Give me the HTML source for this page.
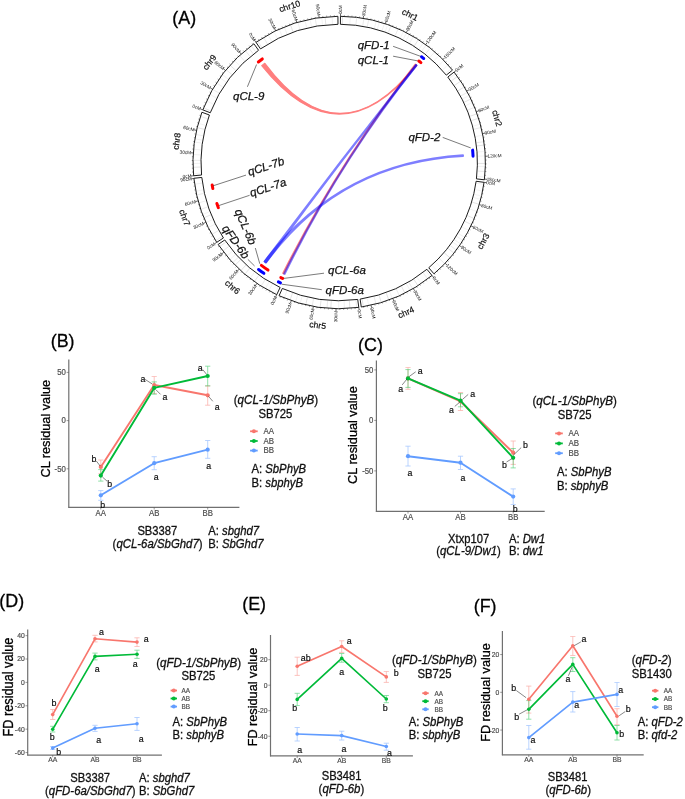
<!DOCTYPE html>
<html><head><meta charset="utf-8"><style>
html,body{margin:0;padding:0;background:#fff;width:685px;height:799px;overflow:hidden}
svg{display:block;will-change:transform}
text{font-family:"Liberation Sans",sans-serif}
</style></head><body>
<svg width="685" height="799" viewBox="0 0 685 799" font-family="'Liberation Sans', sans-serif">
<rect width="685" height="799" fill="#fff"/>
<g font-family="'Liberation Sans', sans-serif"><line x1="342.35" y1="23.84" x2="342.51" y2="16.84" stroke="#dcdcdc" stroke-width="0.8"/>
<line x1="349.83" y1="24.21" x2="350.37" y2="17.23" stroke="#f0f0f0" stroke-width="0.8"/>
<line x1="355.86" y1="24.80" x2="356.70" y2="17.85" stroke="#e4e4e4" stroke-width="0.8"/>
<line x1="362.67" y1="25.80" x2="363.85" y2="18.90" stroke="#e4e4e4" stroke-width="0.8"/>
<line x1="367.26" y1="26.67" x2="368.68" y2="19.81" stroke="#e4e4e4" stroke-width="0.8"/>
<line x1="374.37" y1="28.33" x2="376.15" y2="21.56" stroke="#ececec" stroke-width="0.8"/>
<line x1="377.35" y1="29.15" x2="379.28" y2="22.42" stroke="#f0f0f0" stroke-width="0.8"/>
<line x1="382.07" y1="30.59" x2="384.23" y2="23.93" stroke="#ececec" stroke-width="0.8"/>
<line x1="385.23" y1="31.66" x2="387.56" y2="25.06" stroke="#f0f0f0" stroke-width="0.8"/>
<line x1="388.23" y1="32.76" x2="390.71" y2="26.21" stroke="#e4e4e4" stroke-width="0.8"/>
<line x1="395.16" y1="35.59" x2="397.99" y2="29.19" stroke="#e4e4e4" stroke-width="0.8"/>
<line x1="400.33" y1="38.00" x2="403.42" y2="31.71" stroke="#f0f0f0" stroke-width="0.8"/>
<line x1="403.14" y1="39.42" x2="406.36" y2="33.20" stroke="#ececec" stroke-width="0.8"/>
<line x1="405.90" y1="40.89" x2="409.27" y2="34.75" stroke="#ececec" stroke-width="0.8"/>
<line x1="409.64" y1="43.02" x2="413.20" y2="36.99" stroke="#ececec" stroke-width="0.8"/>
<line x1="414.34" y1="45.92" x2="418.14" y2="40.03" stroke="#dcdcdc" stroke-width="0.8"/>
<line x1="419.00" y1="49.06" x2="423.03" y2="43.33" stroke="#ececec" stroke-width="0.8"/>
<line x1="421.76" y1="51.05" x2="425.93" y2="45.42" stroke="#ececec" stroke-width="0.8"/>
<line x1="425.50" y1="53.92" x2="429.85" y2="48.44" stroke="#e4e4e4" stroke-width="0.8"/>
<line x1="429.84" y1="57.51" x2="434.41" y2="52.21" stroke="#ececec" stroke-width="0.8"/>
<line x1="433.79" y1="61.06" x2="438.56" y2="55.94" stroke="#f0f0f0" stroke-width="0.8"/>
<line x1="438.55" y1="65.72" x2="443.57" y2="60.83" stroke="#f0f0f0" stroke-width="0.8"/>
<line x1="442.47" y1="69.91" x2="447.68" y2="65.24" stroke="#f0f0f0" stroke-width="0.8"/>
<line x1="445.52" y1="73.43" x2="450.89" y2="68.93" stroke="#ececec" stroke-width="0.8"/>
<line x1="449.39" y1="78.26" x2="454.95" y2="74.01" stroke="#ececec" stroke-width="0.8"/>
<line x1="451.36" y1="80.90" x2="457.02" y2="76.79" stroke="#dcdcdc" stroke-width="0.8"/>
<line x1="454.48" y1="85.37" x2="460.29" y2="81.48" stroke="#dcdcdc" stroke-width="0.8"/>
<line x1="457.93" y1="90.80" x2="463.92" y2="87.18" stroke="#dcdcdc" stroke-width="0.8"/>
<line x1="460.85" y1="95.87" x2="466.99" y2="92.51" stroke="#e4e4e4" stroke-width="0.8"/>
<line x1="462.48" y1="98.94" x2="468.70" y2="95.74" stroke="#f0f0f0" stroke-width="0.8"/>
<line x1="464.13" y1="102.26" x2="470.44" y2="99.22" stroke="#dcdcdc" stroke-width="0.8"/>
<line x1="465.67" y1="105.56" x2="472.06" y2="102.68" stroke="#f0f0f0" stroke-width="0.8"/>
<line x1="467.62" y1="110.10" x2="474.10" y2="107.46" stroke="#e4e4e4" stroke-width="0.8"/>
<line x1="469.97" y1="116.28" x2="476.57" y2="113.94" stroke="#dcdcdc" stroke-width="0.8"/>
<line x1="471.42" y1="120.59" x2="478.09" y2="118.48" stroke="#dcdcdc" stroke-width="0.8"/>
<line x1="473.05" y1="126.14" x2="479.80" y2="124.31" stroke="#f0f0f0" stroke-width="0.8"/>
<line x1="473.86" y1="129.27" x2="480.66" y2="127.60" stroke="#e4e4e4" stroke-width="0.8"/>
<line x1="475.46" y1="136.58" x2="482.33" y2="135.27" stroke="#f0f0f0" stroke-width="0.8"/>
<line x1="476.49" y1="142.77" x2="483.42" y2="141.78" stroke="#e4e4e4" stroke-width="0.8"/>
<line x1="476.91" y1="145.94" x2="483.86" y2="145.11" stroke="#dcdcdc" stroke-width="0.8"/>
<line x1="477.50" y1="151.95" x2="484.48" y2="151.42" stroke="#f0f0f0" stroke-width="0.8"/>
<line x1="477.76" y1="156.23" x2="484.75" y2="155.91" stroke="#f0f0f0" stroke-width="0.8"/>
<line x1="477.90" y1="163.43" x2="484.90" y2="163.47" stroke="#dcdcdc" stroke-width="0.8"/>
<line x1="477.84" y1="166.44" x2="484.84" y2="166.64" stroke="#f0f0f0" stroke-width="0.8"/>
<line x1="477.64" y1="171.06" x2="484.62" y2="171.49" stroke="#e4e4e4" stroke-width="0.8"/>
<line x1="477.21" y1="176.34" x2="484.17" y2="177.04" stroke="#ececec" stroke-width="0.8"/>
<line x1="476.34" y1="183.24" x2="483.26" y2="184.29" stroke="#ececec" stroke-width="0.8"/>
<line x1="475.22" y1="189.62" x2="482.09" y2="190.99" stroke="#f0f0f0" stroke-width="0.8"/>
<line x1="474.20" y1="194.31" x2="481.02" y2="195.92" stroke="#f0f0f0" stroke-width="0.8"/>
<line x1="473.41" y1="197.51" x2="480.18" y2="199.28" stroke="#f0f0f0" stroke-width="0.8"/>
<line x1="472.10" y1="202.18" x2="478.81" y2="204.18" stroke="#dcdcdc" stroke-width="0.8"/>
<line x1="469.87" y1="209.00" x2="476.47" y2="211.35" stroke="#f0f0f0" stroke-width="0.8"/>
<line x1="467.33" y1="215.62" x2="473.79" y2="218.30" stroke="#dcdcdc" stroke-width="0.8"/>
<line x1="464.77" y1="221.40" x2="471.11" y2="224.38" stroke="#dcdcdc" stroke-width="0.8"/>
<line x1="462.01" y1="226.97" x2="468.21" y2="230.22" stroke="#f0f0f0" stroke-width="0.8"/>
<line x1="458.32" y1="233.54" x2="464.34" y2="237.13" stroke="#ececec" stroke-width="0.8"/>
<line x1="456.60" y1="236.36" x2="462.52" y2="240.09" stroke="#ececec" stroke-width="0.8"/>
<line x1="454.40" y1="239.74" x2="460.22" y2="243.64" stroke="#ececec" stroke-width="0.8"/>
<line x1="452.73" y1="242.18" x2="458.45" y2="246.21" stroke="#ececec" stroke-width="0.8"/>
<line x1="450.27" y1="245.57" x2="455.88" y2="249.76" stroke="#e4e4e4" stroke-width="0.8"/>
<line x1="448.07" y1="248.43" x2="453.57" y2="252.77" stroke="#dcdcdc" stroke-width="0.8"/>
<line x1="444.35" y1="252.95" x2="449.66" y2="257.51" stroke="#dcdcdc" stroke-width="0.8"/>
<line x1="439.29" y1="258.51" x2="444.35" y2="263.36" stroke="#e4e4e4" stroke-width="0.8"/>
<line x1="435.69" y1="262.14" x2="440.56" y2="267.17" stroke="#f0f0f0" stroke-width="0.8"/>
<line x1="432.16" y1="265.44" x2="436.85" y2="270.64" stroke="#f0f0f0" stroke-width="0.8"/>
<line x1="425.73" y1="270.90" x2="430.10" y2="276.37" stroke="#f0f0f0" stroke-width="0.8"/>
<line x1="423.20" y1="272.87" x2="427.44" y2="278.44" stroke="#e4e4e4" stroke-width="0.8"/>
<line x1="416.97" y1="277.34" x2="420.90" y2="283.14" stroke="#f0f0f0" stroke-width="0.8"/>
<line x1="413.89" y1="279.37" x2="417.66" y2="285.27" stroke="#dcdcdc" stroke-width="0.8"/>
<line x1="408.93" y1="282.40" x2="412.45" y2="288.45" stroke="#e4e4e4" stroke-width="0.8"/>
<line x1="406.40" y1="283.83" x2="409.79" y2="289.96" stroke="#ececec" stroke-width="0.8"/>
<line x1="401.53" y1="286.40" x2="404.68" y2="292.66" stroke="#dcdcdc" stroke-width="0.8"/>
<line x1="396.23" y1="288.93" x2="399.11" y2="295.31" stroke="#e4e4e4" stroke-width="0.8"/>
<line x1="389.65" y1="291.70" x2="392.20" y2="298.22" stroke="#f0f0f0" stroke-width="0.8"/>
<line x1="386.26" y1="292.97" x2="388.63" y2="299.56" stroke="#dcdcdc" stroke-width="0.8"/>
<line x1="379.11" y1="295.33" x2="381.12" y2="302.04" stroke="#dcdcdc" stroke-width="0.8"/>
<line x1="374.10" y1="296.74" x2="375.86" y2="303.51" stroke="#e4e4e4" stroke-width="0.8"/>
<line x1="367.27" y1="298.33" x2="368.69" y2="305.19" stroke="#f0f0f0" stroke-width="0.8"/>
<line x1="362.13" y1="299.29" x2="363.29" y2="306.20" stroke="#dcdcdc" stroke-width="0.8"/>
<line x1="355.86" y1="300.20" x2="356.70" y2="307.14" stroke="#e4e4e4" stroke-width="0.8"/>
<line x1="349.36" y1="300.83" x2="349.87" y2="307.81" stroke="#dcdcdc" stroke-width="0.8"/>
<line x1="344.15" y1="301.11" x2="344.40" y2="308.11" stroke="#ececec" stroke-width="0.8"/>
<line x1="338.74" y1="301.20" x2="338.72" y2="308.20" stroke="#ececec" stroke-width="0.8"/>
<line x1="331.24" y1="300.97" x2="330.84" y2="307.96" stroke="#dcdcdc" stroke-width="0.8"/>
<line x1="327.63" y1="300.72" x2="327.05" y2="307.69" stroke="#e4e4e4" stroke-width="0.8"/>
<line x1="321.09" y1="300.01" x2="320.18" y2="306.95" stroke="#dcdcdc" stroke-width="0.8"/>
<line x1="313.55" y1="298.81" x2="312.25" y2="305.69" stroke="#e4e4e4" stroke-width="0.8"/>
<line x1="307.41" y1="297.51" x2="305.81" y2="304.32" stroke="#dcdcdc" stroke-width="0.8"/>
<line x1="302.16" y1="296.16" x2="300.30" y2="302.91" stroke="#ececec" stroke-width="0.8"/>
<line x1="297.73" y1="294.85" x2="295.63" y2="301.53" stroke="#ececec" stroke-width="0.8"/>
<line x1="292.53" y1="293.11" x2="290.17" y2="299.70" stroke="#dcdcdc" stroke-width="0.8"/>
<line x1="286.94" y1="290.98" x2="284.30" y2="297.46" stroke="#ececec" stroke-width="0.8"/>
<line x1="278.18" y1="287.06" x2="275.10" y2="293.34" stroke="#f0f0f0" stroke-width="0.8"/>
<line x1="272.42" y1="284.07" x2="269.05" y2="290.20" stroke="#ececec" stroke-width="0.8"/>
<line x1="269.06" y1="282.16" x2="265.52" y2="288.19" stroke="#f0f0f0" stroke-width="0.8"/>
<line x1="265.10" y1="279.75" x2="261.36" y2="285.67" stroke="#e4e4e4" stroke-width="0.8"/>
<line x1="258.72" y1="275.46" x2="254.65" y2="281.16" stroke="#dcdcdc" stroke-width="0.8"/>
<line x1="254.55" y1="272.37" x2="250.27" y2="277.91" stroke="#ececec" stroke-width="0.8"/>
<line x1="249.68" y1="268.44" x2="245.16" y2="273.79" stroke="#dcdcdc" stroke-width="0.8"/>
<line x1="245.86" y1="265.10" x2="241.15" y2="270.27" stroke="#dcdcdc" stroke-width="0.8"/>
<line x1="240.44" y1="259.88" x2="235.45" y2="264.80" stroke="#dcdcdc" stroke-width="0.8"/>
<line x1="238.15" y1="257.51" x2="233.05" y2="262.30" stroke="#e4e4e4" stroke-width="0.8"/>
<line x1="235.45" y1="254.55" x2="230.21" y2="259.20" stroke="#ececec" stroke-width="0.8"/>
<line x1="232.49" y1="251.11" x2="227.11" y2="255.58" stroke="#f0f0f0" stroke-width="0.8"/>
<line x1="228.81" y1="246.47" x2="223.23" y2="250.71" stroke="#e4e4e4" stroke-width="0.8"/>
<line x1="225.72" y1="242.25" x2="219.99" y2="246.28" stroke="#dcdcdc" stroke-width="0.8"/>
<line x1="221.96" y1="236.61" x2="216.05" y2="240.36" stroke="#e4e4e4" stroke-width="0.8"/>
<line x1="218.40" y1="230.65" x2="212.30" y2="234.09" stroke="#e4e4e4" stroke-width="0.8"/>
<line x1="214.98" y1="224.20" x2="208.71" y2="227.31" stroke="#ececec" stroke-width="0.8"/>
<line x1="212.74" y1="219.48" x2="206.36" y2="222.35" stroke="#ececec" stroke-width="0.8"/>
<line x1="210.77" y1="214.88" x2="204.29" y2="217.52" stroke="#dcdcdc" stroke-width="0.8"/>
<line x1="209.55" y1="211.78" x2="203.01" y2="214.27" stroke="#f0f0f0" stroke-width="0.8"/>
<line x1="207.81" y1="206.94" x2="201.18" y2="209.18" stroke="#e4e4e4" stroke-width="0.8"/>
<line x1="205.90" y1="200.82" x2="199.17" y2="202.75" stroke="#ececec" stroke-width="0.8"/>
<line x1="203.97" y1="193.35" x2="197.15" y2="194.91" stroke="#e4e4e4" stroke-width="0.8"/>
<line x1="203.21" y1="189.79" x2="196.35" y2="191.17" stroke="#f0f0f0" stroke-width="0.8"/>
<line x1="202.04" y1="183.09" x2="195.11" y2="184.13" stroke="#ececec" stroke-width="0.8"/>
<line x1="200.91" y1="173.14" x2="193.93" y2="173.68" stroke="#f0f0f0" stroke-width="0.8"/>
<line x1="200.58" y1="167.06" x2="193.58" y2="167.29" stroke="#dcdcdc" stroke-width="0.8"/>
<line x1="200.50" y1="163.40" x2="193.50" y2="163.45" stroke="#ececec" stroke-width="0.8"/>
<line x1="200.52" y1="160.40" x2="193.52" y2="160.29" stroke="#e4e4e4" stroke-width="0.8"/>
<line x1="200.71" y1="154.95" x2="193.72" y2="154.56" stroke="#ececec" stroke-width="0.8"/>
<line x1="201.07" y1="149.95" x2="194.10" y2="149.32" stroke="#ececec" stroke-width="0.8"/>
<line x1="201.86" y1="143.10" x2="194.93" y2="142.12" stroke="#ececec" stroke-width="0.8"/>
<line x1="202.32" y1="140.09" x2="195.41" y2="138.96" stroke="#ececec" stroke-width="0.8"/>
<line x1="203.09" y1="135.83" x2="196.22" y2="134.49" stroke="#ececec" stroke-width="0.8"/>
<line x1="204.51" y1="129.39" x2="197.71" y2="127.72" stroke="#dcdcdc" stroke-width="0.8"/>
<line x1="205.56" y1="125.36" x2="198.82" y2="123.49" stroke="#f0f0f0" stroke-width="0.8"/>
<line x1="207.59" y1="118.72" x2="200.95" y2="116.51" stroke="#e4e4e4" stroke-width="0.8"/>
<line x1="210.51" y1="110.77" x2="204.01" y2="108.16" stroke="#dcdcdc" stroke-width="0.8"/>
<line x1="213.39" y1="104.11" x2="207.04" y2="101.17" stroke="#f0f0f0" stroke-width="0.8"/>
<line x1="216.45" y1="97.92" x2="210.26" y2="94.66" stroke="#ececec" stroke-width="0.8"/>
<line x1="219.10" y1="93.12" x2="213.04" y2="89.62" stroke="#e4e4e4" stroke-width="0.8"/>
<line x1="222.82" y1="87.04" x2="216.95" y2="83.23" stroke="#ececec" stroke-width="0.8"/>
<line x1="226.11" y1="82.20" x2="220.40" y2="78.15" stroke="#ececec" stroke-width="0.8"/>
<line x1="228.31" y1="79.18" x2="222.72" y2="74.98" stroke="#f0f0f0" stroke-width="0.8"/>
<line x1="231.96" y1="74.54" x2="226.55" y2="70.10" stroke="#e4e4e4" stroke-width="0.8"/>
<line x1="235.60" y1="70.28" x2="230.37" y2="65.63" stroke="#dcdcdc" stroke-width="0.8"/>
<line x1="239.83" y1="65.74" x2="234.81" y2="60.86" stroke="#f0f0f0" stroke-width="0.8"/>
<line x1="244.62" y1="61.05" x2="239.84" y2="55.93" stroke="#e4e4e4" stroke-width="0.8"/>
<line x1="249.99" y1="56.29" x2="245.49" y2="50.93" stroke="#e4e4e4" stroke-width="0.8"/>
<line x1="253.18" y1="53.70" x2="248.84" y2="48.21" stroke="#dcdcdc" stroke-width="0.8"/>
<line x1="255.64" y1="51.80" x2="251.42" y2="46.21" stroke="#e4e4e4" stroke-width="0.8"/>
<line x1="261.84" y1="47.38" x2="257.94" y2="41.57" stroke="#e4e4e4" stroke-width="0.8"/>
<line x1="267.39" y1="43.84" x2="263.77" y2="37.85" stroke="#e4e4e4" stroke-width="0.8"/>
<line x1="271.76" y1="41.30" x2="268.36" y2="35.18" stroke="#ececec" stroke-width="0.8"/>
<line x1="277.29" y1="38.38" x2="274.17" y2="32.12" stroke="#f0f0f0" stroke-width="0.8"/>
<line x1="282.14" y1="36.08" x2="279.26" y2="29.70" stroke="#f0f0f0" stroke-width="0.8"/>
<line x1="287.07" y1="33.97" x2="284.44" y2="27.48" stroke="#ececec" stroke-width="0.8"/>
<line x1="292.95" y1="31.74" x2="290.62" y2="25.14" stroke="#dcdcdc" stroke-width="0.8"/>
<line x1="299.96" y1="29.47" x2="297.98" y2="22.75" stroke="#ececec" stroke-width="0.8"/>
<line x1="306.70" y1="27.66" x2="305.06" y2="20.86" stroke="#ececec" stroke-width="0.8"/>
<line x1="311.50" y1="26.59" x2="310.10" y2="19.73" stroke="#f0f0f0" stroke-width="0.8"/>
<line x1="316.46" y1="25.68" x2="315.32" y2="18.77" stroke="#e4e4e4" stroke-width="0.8"/>
<line x1="322.56" y1="24.80" x2="321.72" y2="17.85" stroke="#f0f0f0" stroke-width="0.8"/>
<line x1="325.79" y1="24.45" x2="325.12" y2="17.48" stroke="#dcdcdc" stroke-width="0.8"/>
<line x1="332.48" y1="23.96" x2="332.14" y2="16.97" stroke="#ececec" stroke-width="0.8"/>
<path d="M340.48,16.31 A146.2,146.2 0 0 1 452.50,70.10 L446.30,75.15 A138.2,138.2 0 0 0 340.41,24.31 Z" fill="none" stroke="#111" stroke-width="0.95"/>
<path d="M454.09,72.09 A146.2,146.2 0 0 1 484.37,179.81 L476.43,178.86 A138.2,138.2 0 0 0 447.81,77.04 Z" fill="none" stroke="#111" stroke-width="0.95"/>
<path d="M484.05,182.34 A146.2,146.2 0 0 1 433.96,273.84 L428.77,267.74 A138.2,138.2 0 0 0 476.12,181.26 Z" fill="none" stroke="#111" stroke-width="0.95"/>
<path d="M432.00,275.47 A146.2,146.2 0 0 1 361.31,307.02 L360.10,299.11 A138.2,138.2 0 0 0 426.92,269.29 Z" fill="none" stroke="#111" stroke-width="0.95"/>
<path d="M358.79,307.38 A146.2,146.2 0 0 1 279.04,295.75 L282.33,288.46 A138.2,138.2 0 0 0 357.72,299.45 Z" fill="none" stroke="#111" stroke-width="0.95"/>
<path d="M276.72,294.68 A146.2,146.2 0 0 1 218.14,244.47 L224.76,239.98 A138.2,138.2 0 0 0 280.14,287.44 Z" fill="none" stroke="#111" stroke-width="0.95"/>
<path d="M216.73,242.34 A146.2,146.2 0 0 1 193.86,178.29 L201.81,177.43 A138.2,138.2 0 0 0 223.43,237.97 Z" fill="none" stroke="#111" stroke-width="0.95"/>
<path d="M193.60,175.75 A146.2,146.2 0 0 1 201.90,112.26 L209.42,115.01 A138.2,138.2 0 0 0 201.57,175.03 Z" fill="none" stroke="#111" stroke-width="0.95"/>
<path d="M202.80,109.87 A146.2,146.2 0 0 1 253.89,43.77 L258.55,50.27 A138.2,138.2 0 0 0 210.27,112.75 Z" fill="none" stroke="#111" stroke-width="0.95"/>
<path d="M255.97,42.30 A146.2,146.2 0 0 1 337.92,16.31 L337.99,24.31 A138.2,138.2 0 0 0 260.53,48.88 Z" fill="none" stroke="#111" stroke-width="0.95"/>
<line x1="340.48" y1="16.31" x2="340.50" y2="13.71" stroke="#222" stroke-width="0.7"/>
<text x="340.50" y="14.11" font-size="4.7" fill="#111" dominant-baseline="central" transform="rotate(-89.50 340.50 14.11)">0cM</text>
<line x1="344.28" y1="16.39" x2="344.32" y2="15.19" stroke="#222" stroke-width="0.45"/>
<line x1="348.07" y1="16.57" x2="348.15" y2="15.37" stroke="#222" stroke-width="0.45"/>
<line x1="351.87" y1="16.85" x2="351.97" y2="15.65" stroke="#222" stroke-width="0.45"/>
<line x1="355.65" y1="17.23" x2="355.78" y2="16.04" stroke="#222" stroke-width="0.45"/>
<line x1="359.42" y1="17.71" x2="359.59" y2="16.52" stroke="#222" stroke-width="0.45"/>
<line x1="363.18" y1="18.28" x2="363.61" y2="15.72" stroke="#222" stroke-width="0.7"/>
<text x="363.54" y="16.11" font-size="4.7" fill="#111" dominant-baseline="central" transform="rotate(-80.56 363.54 16.11)">30cM</text>
<line x1="366.92" y1="18.95" x2="367.15" y2="17.77" stroke="#222" stroke-width="0.45"/>
<line x1="370.64" y1="19.72" x2="370.90" y2="18.55" stroke="#222" stroke-width="0.45"/>
<line x1="374.35" y1="20.59" x2="374.63" y2="19.42" stroke="#222" stroke-width="0.45"/>
<line x1="378.02" y1="21.55" x2="378.34" y2="20.39" stroke="#222" stroke-width="0.45"/>
<line x1="381.68" y1="22.61" x2="382.02" y2="21.46" stroke="#222" stroke-width="0.45"/>
<line x1="385.30" y1="23.76" x2="386.12" y2="21.29" stroke="#222" stroke-width="0.7"/>
<text x="385.99" y="21.67" font-size="4.7" fill="#111" dominant-baseline="central" transform="rotate(-71.62 385.99 21.67)">60cM</text>
<line x1="388.89" y1="25.00" x2="389.30" y2="23.88" stroke="#222" stroke-width="0.45"/>
<line x1="392.45" y1="26.34" x2="392.89" y2="25.22" stroke="#222" stroke-width="0.45"/>
<line x1="395.97" y1="27.77" x2="396.44" y2="26.67" stroke="#222" stroke-width="0.45"/>
<line x1="399.46" y1="29.29" x2="399.95" y2="28.20" stroke="#222" stroke-width="0.45"/>
<line x1="402.90" y1="30.91" x2="403.42" y2="29.83" stroke="#222" stroke-width="0.45"/>
<line x1="406.30" y1="32.61" x2="407.49" y2="30.30" stroke="#222" stroke-width="0.7"/>
<text x="407.31" y="30.65" font-size="4.7" fill="#111" dominant-baseline="central" transform="rotate(-62.68 407.31 30.65)">90cM</text>
<line x1="409.65" y1="34.40" x2="410.23" y2="33.34" stroke="#222" stroke-width="0.45"/>
<line x1="412.96" y1="36.27" x2="413.57" y2="35.24" stroke="#222" stroke-width="0.45"/>
<line x1="416.22" y1="38.23" x2="416.85" y2="37.21" stroke="#222" stroke-width="0.45"/>
<line x1="419.42" y1="40.28" x2="420.08" y2="39.27" stroke="#222" stroke-width="0.45"/>
<line x1="422.58" y1="42.40" x2="423.26" y2="41.42" stroke="#222" stroke-width="0.45"/>
<line x1="425.67" y1="44.61" x2="427.21" y2="42.52" stroke="#222" stroke-width="0.7"/>
<text x="426.97" y="42.84" font-size="4.7" fill="#111" dominant-baseline="central" transform="rotate(-53.74 426.97 42.84)">120cM</text>
<line x1="428.71" y1="46.90" x2="429.44" y2="45.95" stroke="#222" stroke-width="0.45"/>
<line x1="431.68" y1="49.27" x2="432.44" y2="48.34" stroke="#222" stroke-width="0.45"/>
<line x1="434.59" y1="51.71" x2="435.38" y2="50.80" stroke="#222" stroke-width="0.45"/>
<line x1="437.44" y1="54.23" x2="438.25" y2="53.34" stroke="#222" stroke-width="0.45"/>
<line x1="440.23" y1="56.82" x2="441.05" y2="55.95" stroke="#222" stroke-width="0.45"/>
<line x1="442.94" y1="59.48" x2="444.78" y2="57.65" stroke="#222" stroke-width="0.7"/>
<text x="444.50" y="57.93" font-size="4.7" fill="#111" dominant-baseline="central" transform="rotate(-44.80 444.50 57.93)">150cM</text>
<line x1="445.58" y1="62.21" x2="446.46" y2="61.39" stroke="#222" stroke-width="0.45"/>
<line x1="448.15" y1="65.01" x2="449.05" y2="64.21" stroke="#222" stroke-width="0.45"/>
<line x1="450.65" y1="67.88" x2="451.57" y2="67.10" stroke="#222" stroke-width="0.45"/>
<line x1="454.09" y1="72.09" x2="456.14" y2="70.48" stroke="#222" stroke-width="0.7"/>
<text x="455.82" y="70.73" font-size="4.7" fill="#111" dominant-baseline="central" transform="rotate(-38.20 455.82 70.73)">0cM</text>
<line x1="456.40" y1="75.11" x2="457.37" y2="74.39" stroke="#222" stroke-width="0.45"/>
<line x1="458.64" y1="78.18" x2="459.62" y2="77.49" stroke="#222" stroke-width="0.45"/>
<line x1="460.79" y1="81.32" x2="461.79" y2="80.65" stroke="#222" stroke-width="0.45"/>
<line x1="462.86" y1="84.51" x2="463.87" y2="83.87" stroke="#222" stroke-width="0.45"/>
<line x1="464.85" y1="87.75" x2="465.88" y2="87.14" stroke="#222" stroke-width="0.45"/>
<line x1="466.75" y1="91.04" x2="469.01" y2="89.77" stroke="#222" stroke-width="0.7"/>
<text x="468.67" y="89.97" font-size="4.7" fill="#111" dominant-baseline="central" transform="rotate(-29.26 468.67 89.97)">30cM</text>
<line x1="468.56" y1="94.38" x2="469.62" y2="93.82" stroke="#222" stroke-width="0.45"/>
<line x1="470.29" y1="97.77" x2="471.36" y2="97.24" stroke="#222" stroke-width="0.45"/>
<line x1="471.93" y1="101.20" x2="473.02" y2="100.70" stroke="#222" stroke-width="0.45"/>
<line x1="473.48" y1="104.67" x2="474.58" y2="104.20" stroke="#222" stroke-width="0.45"/>
<line x1="474.94" y1="108.18" x2="476.05" y2="107.74" stroke="#222" stroke-width="0.45"/>
<line x1="476.30" y1="111.73" x2="478.74" y2="110.83" stroke="#222" stroke-width="0.7"/>
<text x="478.36" y="110.97" font-size="4.7" fill="#111" dominant-baseline="central" transform="rotate(-20.32 478.36 110.97)">60cM</text>
<line x1="477.58" y1="115.31" x2="478.71" y2="114.92" stroke="#222" stroke-width="0.45"/>
<line x1="478.76" y1="118.93" x2="479.90" y2="118.57" stroke="#222" stroke-width="0.45"/>
<line x1="479.84" y1="122.57" x2="481.00" y2="122.24" stroke="#222" stroke-width="0.45"/>
<line x1="480.83" y1="126.24" x2="481.99" y2="125.94" stroke="#222" stroke-width="0.45"/>
<line x1="481.73" y1="129.94" x2="482.90" y2="129.67" stroke="#222" stroke-width="0.45"/>
<line x1="482.53" y1="133.65" x2="485.07" y2="133.14" stroke="#222" stroke-width="0.7"/>
<text x="484.68" y="133.22" font-size="4.7" fill="#111" dominant-baseline="central" transform="rotate(-11.38 484.68 133.22)">90cM</text>
<line x1="483.23" y1="137.39" x2="484.41" y2="137.18" stroke="#222" stroke-width="0.45"/>
<line x1="483.83" y1="141.14" x2="485.02" y2="140.97" stroke="#222" stroke-width="0.45"/>
<line x1="484.34" y1="144.91" x2="485.53" y2="144.77" stroke="#222" stroke-width="0.45"/>
<line x1="484.75" y1="148.69" x2="485.94" y2="148.58" stroke="#222" stroke-width="0.45"/>
<line x1="485.06" y1="152.48" x2="486.25" y2="152.40" stroke="#222" stroke-width="0.45"/>
<line x1="485.27" y1="156.28" x2="487.87" y2="156.17" stroke="#222" stroke-width="0.7"/>
<text x="487.47" y="156.18" font-size="4.7" fill="#111" dominant-baseline="central" transform="rotate(-2.44 487.47 156.18)">120cM</text>
<line x1="485.38" y1="160.08" x2="486.58" y2="160.06" stroke="#222" stroke-width="0.45"/>
<line x1="485.39" y1="163.88" x2="486.59" y2="163.89" stroke="#222" stroke-width="0.45"/>
<line x1="485.31" y1="167.68" x2="486.51" y2="167.72" stroke="#222" stroke-width="0.45"/>
<line x1="485.12" y1="171.48" x2="486.32" y2="171.55" stroke="#222" stroke-width="0.45"/>
<line x1="484.84" y1="175.27" x2="486.04" y2="175.37" stroke="#222" stroke-width="0.45"/>
<line x1="484.46" y1="179.05" x2="487.04" y2="179.34" stroke="#222" stroke-width="0.7"/>
<text x="486.65" y="179.30" font-size="4.7" fill="#111" dominant-baseline="central" transform="rotate(6.50 486.65 179.30)">150cM</text>
<line x1="484.05" y1="182.34" x2="486.62" y2="182.69" stroke="#222" stroke-width="0.7"/>
<text x="486.23" y="182.64" font-size="4.7" fill="#111" dominant-baseline="central" transform="rotate(7.80 486.23 182.64)">0cM</text>
<line x1="483.48" y1="186.10" x2="484.67" y2="186.30" stroke="#222" stroke-width="0.45"/>
<line x1="482.82" y1="189.85" x2="484.00" y2="190.07" stroke="#222" stroke-width="0.45"/>
<line x1="482.06" y1="193.57" x2="483.23" y2="193.83" stroke="#222" stroke-width="0.45"/>
<line x1="481.20" y1="197.27" x2="482.37" y2="197.56" stroke="#222" stroke-width="0.45"/>
<line x1="480.25" y1="200.96" x2="481.41" y2="201.27" stroke="#222" stroke-width="0.45"/>
<line x1="479.20" y1="204.61" x2="481.69" y2="205.36" stroke="#222" stroke-width="0.7"/>
<text x="481.31" y="205.24" font-size="4.7" fill="#111" dominant-baseline="central" transform="rotate(16.74 481.31 205.24)">30cM</text>
<line x1="478.06" y1="208.24" x2="479.20" y2="208.61" stroke="#222" stroke-width="0.45"/>
<line x1="476.83" y1="211.83" x2="477.96" y2="212.24" stroke="#222" stroke-width="0.45"/>
<line x1="475.50" y1="215.39" x2="476.62" y2="215.83" stroke="#222" stroke-width="0.45"/>
<line x1="474.08" y1="218.92" x2="475.18" y2="219.38" stroke="#222" stroke-width="0.45"/>
<line x1="472.56" y1="222.41" x2="473.66" y2="222.90" stroke="#222" stroke-width="0.45"/>
<line x1="470.96" y1="225.85" x2="473.30" y2="226.98" stroke="#222" stroke-width="0.7"/>
<text x="472.94" y="226.81" font-size="4.7" fill="#111" dominant-baseline="central" transform="rotate(25.68 472.94 226.81)">60cM</text>
<line x1="469.27" y1="229.26" x2="470.34" y2="229.81" stroke="#222" stroke-width="0.45"/>
<line x1="467.49" y1="232.62" x2="468.54" y2="233.19" stroke="#222" stroke-width="0.45"/>
<line x1="465.62" y1="235.93" x2="466.66" y2="236.53" stroke="#222" stroke-width="0.45"/>
<line x1="463.67" y1="239.19" x2="464.69" y2="239.82" stroke="#222" stroke-width="0.45"/>
<line x1="461.63" y1="242.40" x2="462.64" y2="243.06" stroke="#222" stroke-width="0.45"/>
<line x1="459.51" y1="245.56" x2="461.65" y2="247.04" stroke="#222" stroke-width="0.7"/>
<text x="461.32" y="246.81" font-size="4.7" fill="#111" dominant-baseline="central" transform="rotate(34.62 461.32 246.81)">90cM</text>
<line x1="457.31" y1="248.66" x2="458.28" y2="249.37" stroke="#222" stroke-width="0.45"/>
<line x1="455.03" y1="251.70" x2="455.98" y2="252.44" stroke="#222" stroke-width="0.45"/>
<line x1="452.67" y1="254.68" x2="453.61" y2="255.44" stroke="#222" stroke-width="0.45"/>
<line x1="450.24" y1="257.60" x2="451.15" y2="258.39" stroke="#222" stroke-width="0.45"/>
<line x1="447.73" y1="260.46" x2="448.62" y2="261.26" stroke="#222" stroke-width="0.45"/>
<line x1="445.14" y1="263.25" x2="447.03" y2="265.04" stroke="#222" stroke-width="0.7"/>
<text x="446.74" y="264.76" font-size="4.7" fill="#111" dominant-baseline="central" transform="rotate(43.56 446.74 264.76)">120cM</text>
<line x1="442.49" y1="265.97" x2="443.34" y2="266.82" stroke="#222" stroke-width="0.45"/>
<line x1="439.76" y1="268.62" x2="440.59" y2="269.49" stroke="#222" stroke-width="0.45"/>
<line x1="436.97" y1="271.20" x2="437.77" y2="272.09" stroke="#222" stroke-width="0.45"/>
<line x1="434.11" y1="273.70" x2="434.89" y2="274.62" stroke="#222" stroke-width="0.45"/>
<line x1="432.00" y1="275.47" x2="433.65" y2="277.48" stroke="#222" stroke-width="0.7"/>
<text x="433.39" y="277.17" font-size="4.7" fill="#111" dominant-baseline="central" transform="rotate(50.60 433.39 277.17)">0cM</text>
<line x1="429.03" y1="277.85" x2="429.77" y2="278.80" stroke="#222" stroke-width="0.45"/>
<line x1="426.00" y1="280.15" x2="426.71" y2="281.11" stroke="#222" stroke-width="0.45"/>
<line x1="422.91" y1="282.36" x2="423.60" y2="283.35" stroke="#222" stroke-width="0.45"/>
<line x1="419.77" y1="284.50" x2="420.43" y2="285.50" stroke="#222" stroke-width="0.45"/>
<line x1="416.57" y1="286.55" x2="417.20" y2="287.57" stroke="#222" stroke-width="0.45"/>
<line x1="413.31" y1="288.52" x2="414.63" y2="290.76" stroke="#222" stroke-width="0.7"/>
<text x="414.43" y="290.42" font-size="4.7" fill="#111" dominant-baseline="central" transform="rotate(59.54 414.43 290.42)">30cM</text>
<line x1="410.01" y1="290.41" x2="410.59" y2="291.46" stroke="#222" stroke-width="0.45"/>
<line x1="406.66" y1="292.20" x2="407.22" y2="293.27" stroke="#222" stroke-width="0.45"/>
<line x1="403.27" y1="293.91" x2="403.79" y2="294.99" stroke="#222" stroke-width="0.45"/>
<line x1="399.83" y1="295.54" x2="400.33" y2="296.63" stroke="#222" stroke-width="0.45"/>
<line x1="396.35" y1="297.07" x2="396.82" y2="298.17" stroke="#222" stroke-width="0.45"/>
<line x1="392.83" y1="298.51" x2="393.78" y2="300.93" stroke="#222" stroke-width="0.7"/>
<text x="393.64" y="300.55" font-size="4.7" fill="#111" dominant-baseline="central" transform="rotate(68.48 393.64 300.55)">60cM</text>
<line x1="389.28" y1="299.86" x2="389.69" y2="300.98" stroke="#222" stroke-width="0.45"/>
<line x1="385.69" y1="301.11" x2="386.07" y2="302.25" stroke="#222" stroke-width="0.45"/>
<line x1="382.07" y1="302.27" x2="382.42" y2="303.42" stroke="#222" stroke-width="0.45"/>
<line x1="378.42" y1="303.34" x2="378.74" y2="304.50" stroke="#222" stroke-width="0.45"/>
<line x1="374.74" y1="304.31" x2="375.03" y2="305.48" stroke="#222" stroke-width="0.45"/>
<line x1="371.04" y1="305.19" x2="371.61" y2="307.73" stroke="#222" stroke-width="0.7"/>
<text x="371.52" y="307.34" font-size="4.7" fill="#111" dominant-baseline="central" transform="rotate(77.42 371.52 307.34)">90cM</text>
<line x1="367.32" y1="305.97" x2="367.55" y2="307.15" stroke="#222" stroke-width="0.45"/>
<line x1="363.58" y1="306.65" x2="363.78" y2="307.84" stroke="#222" stroke-width="0.45"/>
<line x1="358.79" y1="307.38" x2="359.14" y2="309.96" stroke="#222" stroke-width="0.7"/>
<text x="359.08" y="309.56" font-size="4.7" fill="#111" dominant-baseline="central" transform="rotate(82.30 359.08 309.56)">0cM</text>
<line x1="355.01" y1="307.84" x2="355.14" y2="309.04" stroke="#222" stroke-width="0.45"/>
<line x1="351.23" y1="308.20" x2="351.33" y2="309.40" stroke="#222" stroke-width="0.45"/>
<line x1="347.44" y1="308.47" x2="347.51" y2="309.67" stroke="#222" stroke-width="0.45"/>
<line x1="343.64" y1="308.63" x2="343.68" y2="309.83" stroke="#222" stroke-width="0.45"/>
<line x1="339.84" y1="308.70" x2="339.84" y2="309.90" stroke="#222" stroke-width="0.45"/>
<line x1="336.04" y1="308.67" x2="335.98" y2="311.27" stroke="#222" stroke-width="0.7"/>
<text x="335.99" y="310.87" font-size="4.7" fill="#111" text-anchor="end" dominant-baseline="central" transform="rotate(271.24 335.99 310.87)">30cM</text>
<line x1="332.24" y1="308.53" x2="332.18" y2="309.73" stroke="#222" stroke-width="0.45"/>
<line x1="328.44" y1="308.30" x2="328.35" y2="309.50" stroke="#222" stroke-width="0.45"/>
<line x1="324.65" y1="307.97" x2="324.53" y2="309.17" stroke="#222" stroke-width="0.45"/>
<line x1="320.88" y1="307.55" x2="320.73" y2="308.74" stroke="#222" stroke-width="0.45"/>
<line x1="317.11" y1="307.02" x2="316.93" y2="308.21" stroke="#222" stroke-width="0.45"/>
<line x1="313.36" y1="306.40" x2="312.90" y2="308.96" stroke="#222" stroke-width="0.7"/>
<text x="312.97" y="308.56" font-size="4.7" fill="#111" text-anchor="end" dominant-baseline="central" transform="rotate(280.18 312.97 308.56)">60cM</text>
<line x1="309.63" y1="305.68" x2="309.38" y2="306.85" stroke="#222" stroke-width="0.45"/>
<line x1="305.91" y1="304.86" x2="305.64" y2="306.03" stroke="#222" stroke-width="0.45"/>
<line x1="302.22" y1="303.95" x2="301.92" y2="305.11" stroke="#222" stroke-width="0.45"/>
<line x1="298.56" y1="302.94" x2="298.22" y2="304.09" stroke="#222" stroke-width="0.45"/>
<line x1="294.92" y1="301.83" x2="294.56" y2="302.98" stroke="#222" stroke-width="0.45"/>
<line x1="291.31" y1="300.63" x2="290.46" y2="303.09" stroke="#222" stroke-width="0.7"/>
<text x="290.59" y="302.71" font-size="4.7" fill="#111" text-anchor="end" dominant-baseline="central" transform="rotate(289.12 290.59 302.71)">90cM</text>
<line x1="287.74" y1="299.34" x2="287.31" y2="300.47" stroke="#222" stroke-width="0.45"/>
<line x1="284.20" y1="297.96" x2="283.74" y2="299.07" stroke="#222" stroke-width="0.45"/>
<line x1="280.69" y1="296.48" x2="280.21" y2="297.58" stroke="#222" stroke-width="0.45"/>
<line x1="276.72" y1="294.68" x2="275.61" y2="297.03" stroke="#222" stroke-width="0.7"/>
<text x="275.78" y="296.67" font-size="4.7" fill="#111" text-anchor="end" dominant-baseline="central" transform="rotate(295.30 275.78 296.67)">0cM</text>
<line x1="273.30" y1="293.01" x2="272.76" y2="294.08" stroke="#222" stroke-width="0.45"/>
<line x1="269.93" y1="291.25" x2="269.36" y2="292.31" stroke="#222" stroke-width="0.45"/>
<line x1="266.61" y1="289.41" x2="266.01" y2="290.45" stroke="#222" stroke-width="0.45"/>
<line x1="263.33" y1="287.47" x2="262.71" y2="288.50" stroke="#222" stroke-width="0.45"/>
<line x1="260.11" y1="285.46" x2="259.46" y2="286.47" stroke="#222" stroke-width="0.45"/>
<line x1="256.94" y1="283.36" x2="255.48" y2="285.51" stroke="#222" stroke-width="0.7"/>
<text x="255.70" y="285.18" font-size="4.7" fill="#111" text-anchor="end" dominant-baseline="central" transform="rotate(304.24 255.70 285.18)">30cM</text>
<line x1="253.82" y1="281.18" x2="253.12" y2="282.16" stroke="#222" stroke-width="0.45"/>
<line x1="250.77" y1="278.92" x2="250.04" y2="279.88" stroke="#222" stroke-width="0.45"/>
<line x1="247.77" y1="276.58" x2="247.02" y2="277.52" stroke="#222" stroke-width="0.45"/>
<line x1="244.83" y1="274.17" x2="244.06" y2="275.08" stroke="#222" stroke-width="0.45"/>
<line x1="241.96" y1="271.68" x2="241.16" y2="272.57" stroke="#222" stroke-width="0.45"/>
<line x1="239.16" y1="269.11" x2="237.38" y2="271.01" stroke="#222" stroke-width="0.7"/>
<text x="237.65" y="270.71" font-size="4.7" fill="#111" text-anchor="end" dominant-baseline="central" transform="rotate(313.18 237.65 270.71)">60cM</text>
<line x1="236.42" y1="266.47" x2="235.57" y2="267.33" stroke="#222" stroke-width="0.45"/>
<line x1="233.75" y1="263.76" x2="232.88" y2="264.60" stroke="#222" stroke-width="0.45"/>
<line x1="231.15" y1="260.99" x2="230.26" y2="261.80" stroke="#222" stroke-width="0.45"/>
<line x1="228.63" y1="258.15" x2="227.72" y2="258.93" stroke="#222" stroke-width="0.45"/>
<line x1="226.18" y1="255.24" x2="225.25" y2="256.00" stroke="#222" stroke-width="0.45"/>
<line x1="223.80" y1="252.27" x2="221.75" y2="253.86" stroke="#222" stroke-width="0.7"/>
<text x="222.07" y="253.62" font-size="4.7" fill="#111" text-anchor="end" dominant-baseline="central" transform="rotate(322.12 222.07 253.62)">90cM</text>
<line x1="221.51" y1="249.24" x2="220.54" y2="249.95" stroke="#222" stroke-width="0.45"/>
<line x1="219.29" y1="246.15" x2="218.31" y2="246.83" stroke="#222" stroke-width="0.45"/>
<line x1="216.73" y1="242.34" x2="214.55" y2="243.76" stroke="#222" stroke-width="0.7"/>
<text x="214.88" y="243.54" font-size="4.7" fill="#111" text-anchor="end" dominant-baseline="central" transform="rotate(326.90 214.88 243.54)">0cM</text>
<line x1="214.69" y1="239.13" x2="213.67" y2="239.76" stroke="#222" stroke-width="0.45"/>
<line x1="212.74" y1="235.87" x2="211.70" y2="236.47" stroke="#222" stroke-width="0.45"/>
<line x1="210.88" y1="232.55" x2="209.82" y2="233.13" stroke="#222" stroke-width="0.45"/>
<line x1="209.10" y1="229.19" x2="208.03" y2="229.74" stroke="#222" stroke-width="0.45"/>
<line x1="207.41" y1="225.79" x2="206.33" y2="226.31" stroke="#222" stroke-width="0.45"/>
<line x1="205.81" y1="222.34" x2="203.43" y2="223.40" stroke="#222" stroke-width="0.7"/>
<text x="203.80" y="223.24" font-size="4.7" fill="#111" text-anchor="end" dominant-baseline="central" transform="rotate(335.84 203.80 223.24)">30cM</text>
<line x1="204.30" y1="218.85" x2="203.19" y2="219.31" stroke="#222" stroke-width="0.45"/>
<line x1="202.88" y1="215.32" x2="201.76" y2="215.76" stroke="#222" stroke-width="0.45"/>
<line x1="201.55" y1="211.76" x2="200.42" y2="212.16" stroke="#222" stroke-width="0.45"/>
<line x1="200.31" y1="208.16" x2="199.17" y2="208.54" stroke="#222" stroke-width="0.45"/>
<line x1="199.17" y1="204.54" x2="198.02" y2="204.88" stroke="#222" stroke-width="0.45"/>
<line x1="198.13" y1="200.88" x2="195.62" y2="201.56" stroke="#222" stroke-width="0.7"/>
<text x="196.01" y="201.46" font-size="4.7" fill="#111" text-anchor="end" dominant-baseline="central" transform="rotate(344.78 196.01 201.46)">60cM</text>
<line x1="197.18" y1="197.20" x2="196.01" y2="197.48" stroke="#222" stroke-width="0.45"/>
<line x1="196.32" y1="193.50" x2="195.15" y2="193.75" stroke="#222" stroke-width="0.45"/>
<line x1="195.57" y1="189.77" x2="194.39" y2="189.99" stroke="#222" stroke-width="0.45"/>
<line x1="194.91" y1="186.03" x2="193.72" y2="186.22" stroke="#222" stroke-width="0.45"/>
<line x1="194.34" y1="182.27" x2="193.15" y2="182.43" stroke="#222" stroke-width="0.45"/>
<line x1="193.88" y1="178.49" x2="191.29" y2="178.78" stroke="#222" stroke-width="0.7"/>
<text x="191.69" y="178.73" font-size="4.7" fill="#111" text-anchor="end" dominant-baseline="central" transform="rotate(353.72 191.69 178.73)">90cM</text>
<line x1="193.60" y1="175.75" x2="191.01" y2="175.99" stroke="#222" stroke-width="0.7"/>
<text x="191.41" y="175.95" font-size="4.7" fill="#111" text-anchor="end" dominant-baseline="central" transform="rotate(354.80 191.41 175.95)">0cM</text>
<line x1="193.31" y1="171.96" x2="192.11" y2="172.04" stroke="#222" stroke-width="0.45"/>
<line x1="193.11" y1="168.16" x2="191.91" y2="168.21" stroke="#222" stroke-width="0.45"/>
<line x1="193.01" y1="164.36" x2="191.81" y2="164.38" stroke="#222" stroke-width="0.45"/>
<line x1="193.01" y1="160.56" x2="191.81" y2="160.54" stroke="#222" stroke-width="0.45"/>
<line x1="193.11" y1="156.76" x2="191.91" y2="156.71" stroke="#222" stroke-width="0.45"/>
<line x1="193.31" y1="152.96" x2="190.72" y2="152.79" stroke="#222" stroke-width="0.7"/>
<text x="191.12" y="152.82" font-size="4.7" fill="#111" text-anchor="end" dominant-baseline="central" transform="rotate(363.74 191.12 152.82)">30cM</text>
<line x1="193.61" y1="149.17" x2="192.41" y2="149.06" stroke="#222" stroke-width="0.45"/>
<line x1="194.00" y1="145.39" x2="192.81" y2="145.25" stroke="#222" stroke-width="0.45"/>
<line x1="194.50" y1="141.62" x2="193.31" y2="141.45" stroke="#222" stroke-width="0.45"/>
<line x1="195.09" y1="137.87" x2="193.91" y2="137.66" stroke="#222" stroke-width="0.45"/>
<line x1="195.78" y1="134.13" x2="194.60" y2="133.90" stroke="#222" stroke-width="0.45"/>
<line x1="196.57" y1="130.41" x2="194.03" y2="129.84" stroke="#222" stroke-width="0.7"/>
<text x="194.42" y="129.93" font-size="4.7" fill="#111" text-anchor="end" dominant-baseline="central" transform="rotate(372.68 194.42 129.93)">60cM</text>
<line x1="197.45" y1="126.71" x2="196.28" y2="126.42" stroke="#222" stroke-width="0.45"/>
<line x1="198.43" y1="123.04" x2="197.27" y2="122.71" stroke="#222" stroke-width="0.45"/>
<line x1="199.50" y1="119.39" x2="198.35" y2="119.04" stroke="#222" stroke-width="0.45"/>
<line x1="200.67" y1="115.77" x2="199.53" y2="115.39" stroke="#222" stroke-width="0.45"/>
<line x1="202.80" y1="109.87" x2="200.38" y2="108.93" stroke="#222" stroke-width="0.7"/>
<text x="200.75" y="109.08" font-size="4.7" fill="#111" text-anchor="end" dominant-baseline="central" transform="rotate(381.10 200.75 109.08)">0cM</text>
<line x1="204.22" y1="106.34" x2="203.11" y2="105.88" stroke="#222" stroke-width="0.45"/>
<line x1="205.72" y1="102.85" x2="204.63" y2="102.36" stroke="#222" stroke-width="0.45"/>
<line x1="207.32" y1="99.40" x2="206.24" y2="98.88" stroke="#222" stroke-width="0.45"/>
<line x1="209.00" y1="95.99" x2="207.94" y2="95.44" stroke="#222" stroke-width="0.45"/>
<line x1="210.78" y1="92.63" x2="209.72" y2="92.05" stroke="#222" stroke-width="0.45"/>
<line x1="212.64" y1="89.31" x2="210.39" y2="88.01" stroke="#222" stroke-width="0.7"/>
<text x="210.73" y="88.21" font-size="4.7" fill="#111" text-anchor="end" dominant-baseline="central" transform="rotate(390.04 210.73 88.21)">30cM</text>
<line x1="214.58" y1="86.05" x2="213.56" y2="85.42" stroke="#222" stroke-width="0.45"/>
<line x1="216.61" y1="82.83" x2="215.61" y2="82.18" stroke="#222" stroke-width="0.45"/>
<line x1="218.73" y1="79.67" x2="217.74" y2="78.99" stroke="#222" stroke-width="0.45"/>
<line x1="220.92" y1="76.57" x2="219.95" y2="75.86" stroke="#222" stroke-width="0.45"/>
<line x1="223.20" y1="73.52" x2="222.24" y2="72.79" stroke="#222" stroke-width="0.45"/>
<line x1="225.55" y1="70.53" x2="223.53" y2="68.90" stroke="#222" stroke-width="0.7"/>
<text x="223.84" y="69.15" font-size="4.7" fill="#111" text-anchor="end" dominant-baseline="central" transform="rotate(398.98 223.84 69.15)">60cM</text>
<line x1="227.98" y1="67.61" x2="227.07" y2="66.83" stroke="#222" stroke-width="0.45"/>
<line x1="230.48" y1="64.75" x2="229.59" y2="63.95" stroke="#222" stroke-width="0.45"/>
<line x1="233.06" y1="61.96" x2="232.19" y2="61.13" stroke="#222" stroke-width="0.45"/>
<line x1="235.71" y1="59.23" x2="234.86" y2="58.38" stroke="#222" stroke-width="0.45"/>
<line x1="238.43" y1="56.57" x2="237.61" y2="55.70" stroke="#222" stroke-width="0.45"/>
<line x1="241.22" y1="53.99" x2="239.48" y2="52.06" stroke="#222" stroke-width="0.7"/>
<text x="239.75" y="52.36" font-size="4.7" fill="#111" text-anchor="end" dominant-baseline="central" transform="rotate(407.92 239.75 52.36)">90cM</text>
<line x1="244.08" y1="51.48" x2="243.30" y2="50.57" stroke="#222" stroke-width="0.45"/>
<line x1="247.00" y1="49.04" x2="246.24" y2="48.11" stroke="#222" stroke-width="0.45"/>
<line x1="249.98" y1="46.68" x2="249.24" y2="45.73" stroke="#222" stroke-width="0.45"/>
<line x1="253.02" y1="44.40" x2="252.31" y2="43.43" stroke="#222" stroke-width="0.45"/>
<line x1="255.97" y1="42.30" x2="254.49" y2="40.16" stroke="#222" stroke-width="0.7"/>
<text x="254.72" y="40.49" font-size="4.7" fill="#111" text-anchor="end" dominant-baseline="central" transform="rotate(415.30 254.72 40.49)">0cM</text>
<line x1="259.12" y1="40.18" x2="258.47" y2="39.18" stroke="#222" stroke-width="0.45"/>
<line x1="262.33" y1="38.14" x2="261.70" y2="37.12" stroke="#222" stroke-width="0.45"/>
<line x1="265.59" y1="36.18" x2="264.99" y2="35.14" stroke="#222" stroke-width="0.45"/>
<line x1="268.90" y1="34.31" x2="268.32" y2="33.26" stroke="#222" stroke-width="0.45"/>
<line x1="272.26" y1="32.53" x2="271.71" y2="31.46" stroke="#222" stroke-width="0.45"/>
<line x1="275.66" y1="30.83" x2="274.53" y2="28.49" stroke="#222" stroke-width="0.7"/>
<text x="274.70" y="28.85" font-size="4.7" fill="#111" text-anchor="end" dominant-baseline="central" transform="rotate(424.24 274.70 28.85)">30cM</text>
<line x1="279.11" y1="29.22" x2="278.61" y2="28.13" stroke="#222" stroke-width="0.45"/>
<line x1="282.59" y1="27.70" x2="282.13" y2="26.60" stroke="#222" stroke-width="0.45"/>
<line x1="286.12" y1="26.28" x2="285.68" y2="25.16" stroke="#222" stroke-width="0.45"/>
<line x1="289.68" y1="24.94" x2="289.27" y2="23.81" stroke="#222" stroke-width="0.45"/>
<line x1="293.27" y1="23.70" x2="292.89" y2="22.56" stroke="#222" stroke-width="0.45"/>
<line x1="296.89" y1="22.55" x2="296.14" y2="20.07" stroke="#222" stroke-width="0.7"/>
<text x="296.26" y="20.45" font-size="4.7" fill="#111" text-anchor="end" dominant-baseline="central" transform="rotate(433.18 296.26 20.45)">60cM</text>
<line x1="300.55" y1="21.50" x2="300.23" y2="20.34" stroke="#222" stroke-width="0.45"/>
<line x1="304.23" y1="20.54" x2="303.94" y2="19.38" stroke="#222" stroke-width="0.45"/>
<line x1="307.93" y1="19.68" x2="307.67" y2="18.51" stroke="#222" stroke-width="0.45"/>
<line x1="311.65" y1="18.92" x2="311.43" y2="17.74" stroke="#222" stroke-width="0.45"/>
<line x1="315.40" y1="18.25" x2="315.20" y2="17.07" stroke="#222" stroke-width="0.45"/>
<line x1="319.16" y1="17.68" x2="318.80" y2="15.11" stroke="#222" stroke-width="0.7"/>
<text x="318.85" y="15.50" font-size="4.7" fill="#111" text-anchor="end" dominant-baseline="central" transform="rotate(442.12 318.85 15.50)">90cM</text>
<line x1="322.93" y1="17.21" x2="322.80" y2="16.02" stroke="#222" stroke-width="0.45"/>
<line x1="326.71" y1="16.83" x2="326.61" y2="15.64" stroke="#222" stroke-width="0.45"/>
<line x1="330.50" y1="16.56" x2="330.43" y2="15.36" stroke="#222" stroke-width="0.45"/>
<line x1="334.30" y1="16.38" x2="334.26" y2="15.18" stroke="#222" stroke-width="0.45"/>
<text x="410.19" y="14.66" font-size="8.6" fill="#111" stroke="#111" stroke-width="0.2" text-anchor="middle" dominant-baseline="central" transform="rotate(25.65 410.19 14.66)">chr1</text>
<text x="497.08" y="118.12" font-size="8.6" fill="#111" stroke="#111" stroke-width="0.2" text-anchor="middle" dominant-baseline="central" transform="rotate(74.30 497.08 118.12)">chr2</text>
<text x="483.05" y="241.26" font-size="8.6" fill="#111" stroke="#111" stroke-width="0.2" text-anchor="middle" dominant-baseline="central" transform="rotate(-61.30 483.05 241.26)">chr3</text>
<text x="406.04" y="312.26" font-size="8.6" fill="#111" stroke="#111" stroke-width="0.2" text-anchor="middle" dominant-baseline="central" transform="rotate(-24.05 406.04 312.26)">chr4</text>
<text x="317.79" y="325.10" font-size="8.6" fill="#111" stroke="#111" stroke-width="0.2" text-anchor="middle" dominant-baseline="central" transform="rotate(7.50 317.79 325.10)">chr5</text>
<text x="232.47" y="287.02" font-size="8.6" fill="#111" stroke="#111" stroke-width="0.2" text-anchor="middle" dominant-baseline="central" transform="rotate(40.60 232.47 287.02)">chr6</text>
<text x="184.75" y="217.65" font-size="8.6" fill="#111" stroke="#111" stroke-width="0.2" text-anchor="middle" dominant-baseline="central" transform="rotate(70.35 184.75 217.65)">chr7</text>
<text x="176.58" y="141.24" font-size="8.6" fill="#111" stroke="#111" stroke-width="0.2" text-anchor="middle" dominant-baseline="central" transform="rotate(277.45 176.58 141.24)">chr8</text>
<text x="209.44" y="62.21" font-size="8.6" fill="#111" stroke="#111" stroke-width="0.2" text-anchor="middle" dominant-baseline="central" transform="rotate(307.70 209.44 62.21)">chr9</text>
<text x="289.61" y="6.18" font-size="8.6" fill="#111" stroke="#111" stroke-width="0.2" text-anchor="middle" dominant-baseline="central" transform="rotate(342.40 289.61 6.18)">chr10</text>
<path d="M261.75,65.66 A124.0,124.0 0 0 1 264.83,63.27 Q339.2,162.5 415.88,65.05 A124.0,124.0 0 0 1 416.56,65.59 Q339.2,162.5 261.75,65.66 Z" fill="#ff0000" stroke="#ff0000" stroke-width="1.2" stroke-linejoin="round" opacity="0.5"/>
<path d="M415.29,64.59 A124.0,124.0 0 0 1 415.80,64.99 Q339.2,162.5 283.77,273.42 A124.0,124.0 0 0 1 283.19,273.13 Q339.2,162.5 415.29,64.59 Z" fill="#ff0000" stroke="#ff0000" stroke-width="1.9" stroke-linejoin="round" opacity="0.5"/>
<path d="M415.97,65.12 A124.0,124.0 0 0 1 416.48,65.52 Q339.2,162.5 284.74,273.90 A124.0,124.0 0 0 1 284.16,273.62 Q339.2,162.5 415.97,65.12 Z" fill="#0000ff" stroke="#0000ff" stroke-width="1.9" stroke-linejoin="round" opacity="0.5"/>
<path d="M415.97,65.12 A124.0,124.0 0 0 1 416.48,65.52 Q339.2,162.5 265.96,262.56 A124.0,124.0 0 0 1 264.57,261.53 Q339.2,162.5 415.97,65.12 Z" fill="#0000ff" stroke="#0000ff" stroke-width="1.9" stroke-linejoin="round" opacity="0.5"/>
<path d="M462.98,155.15 A124.0,124.0 0 0 1 463.03,156.01 Q339.2,162.5 265.96,262.56 A124.0,124.0 0 0 1 264.57,261.53 Q339.2,162.5 462.98,155.15 Z" fill="#0000ff" stroke="#0000ff" stroke-width="1.9" stroke-linejoin="round" opacity="0.5"/>
<path d="M421.51,56.76 A134,134 0 0 1 423.71,58.51" fill="none" stroke="#0000ff" stroke-width="3" stroke-linecap="round"/>
<path d="M418.80,60.99 A129,129 0 0 1 420.91,62.67" fill="none" stroke="#ff0000" stroke-width="3" stroke-linecap="round"/>
<path d="M258.37,61.97 A129,129 0 0 1 262.29,58.94" fill="none" stroke="#ff0000" stroke-width="3" stroke-linecap="round"/>
<path d="M472.63,150.12 A134,134 0 0 1 473.05,156.19" fill="none" stroke="#0000ff" stroke-width="3" stroke-linecap="round"/>
<path d="M212.83,188.44 A129,129 0 0 1 212.16,184.90" fill="none" stroke="#ff0000" stroke-width="3" stroke-linecap="round"/>
<path d="M218.37,207.68 A129,129 0 0 1 216.87,203.43" fill="none" stroke="#ff0000" stroke-width="3" stroke-linecap="round"/>
<path d="M268.00,270.07 A129,129 0 0 1 261.39,265.39" fill="none" stroke="#ff0000" stroke-width="3" stroke-linecap="round"/>
<path d="M263.88,273.33 A134,134 0 0 1 258.56,269.52" fill="none" stroke="#0000ff" stroke-width="3" stroke-linecap="round"/>
<path d="M282.65,278.44 A129,129 0 0 1 280.84,277.54" fill="none" stroke="#ff0000" stroke-width="3" stroke-linecap="round"/>
<path d="M280.46,282.94 A134,134 0 0 1 278.37,281.89" fill="none" stroke="#0000ff" stroke-width="3" stroke-linecap="round"/>
<text x="357.7" y="48.7" font-size="11.5" font-style="italic" fill="#111" stroke="#111" stroke-width="0.25">qFD-1</text>
<line x1="393.1" y1="46.3" x2="420.5" y2="56.3" stroke="#222" stroke-width="0.6"/>
<text x="357.7" y="63.5" font-size="11.5" font-style="italic" fill="#111" stroke="#111" stroke-width="0.25">qCL-1</text>
<line x1="393.1" y1="56.2" x2="417.3" y2="60.8" stroke="#222" stroke-width="0.6"/>
<text x="233.0" y="100.0" font-size="11.5" font-style="italic" fill="#111" stroke="#111" stroke-width="0.25">qCL-9</text>
<line x1="256.6" y1="64.5" x2="247.4" y2="86.8" stroke="#222" stroke-width="0.6"/>
<text x="408.4" y="140.5" font-size="11.5" font-style="italic" fill="#111" stroke="#111" stroke-width="0.25">qFD-2</text>
<line x1="442.7" y1="137.4" x2="470.7" y2="147.9" stroke="#222" stroke-width="0.6"/>
<text x="249.3" y="176.0" font-size="11.5" font-style="italic" fill="#111" stroke="#111" stroke-width="0.25" transform="rotate(-18 249.3 176.0)">qCL-7b</text>
<line x1="213.1" y1="185.8" x2="246.0" y2="175.1" stroke="#222" stroke-width="0.6"/>
<text x="251.3" y="197.0" font-size="11.5" font-style="italic" fill="#111" stroke="#111" stroke-width="0.25" transform="rotate(-18 251.3 197.0)">qCL-7a</text>
<line x1="219.0" y1="205.5" x2="249.6" y2="195.3" stroke="#222" stroke-width="0.6"/>
<text x="234.6" y="211.0" font-size="11.5" font-style="italic" fill="#111" stroke="#111" stroke-width="0.25" transform="rotate(66.8 234.6 211.0)">qCL-6b</text>
<line x1="255.3" y1="248.0" x2="259.8" y2="263.8" stroke="#222" stroke-width="0.6"/>
<text x="221.6" y="228.4" font-size="11.5" font-style="italic" fill="#111" stroke="#111" stroke-width="0.25" transform="rotate(54.8 221.6 228.4)">qFD-6b</text>
<line x1="247.8" y1="259.3" x2="254.6" y2="266.0" stroke="#222" stroke-width="0.6"/>
<text x="328.1" y="274.0" font-size="11.5" font-style="italic" fill="#111" stroke="#111" stroke-width="0.25">qCL-6a</text>
<line x1="283.9" y1="278.4" x2="324.0" y2="273.2" stroke="#222" stroke-width="0.6"/>
<text x="325.5" y="293.7" font-size="11.5" font-style="italic" fill="#111" stroke="#111" stroke-width="0.25">qFD-6a</text>
<line x1="281.7" y1="284.2" x2="321.8" y2="289.7" stroke="#222" stroke-width="0.6"/></g>
<text x="172.3" y="23.8" font-size="17.9" font-family="'Liberation Sans', sans-serif" fill="#000" stroke="#000" stroke-width="0.3">(A)</text>
<g font-family="'Liberation Sans', sans-serif">
<line x1="68.80" y1="359.50" x2="68.80" y2="507.80" stroke="#707070" stroke-width="1.2"/>
<line x1="68.30" y1="507.30" x2="239.40" y2="507.30" stroke="#707070" stroke-width="1.2"/>
<line x1="66.60" y1="372.40" x2="68.80" y2="372.40" stroke="#555" stroke-width="0.6"/>
<text transform="translate(65.80 375.21) scale(1 1.05)" font-size="7.8" fill="#4d4d4d" text-anchor="end" stroke="#4d4d4d" stroke-width="0.18">50</text>
<line x1="66.60" y1="420.60" x2="68.80" y2="420.60" stroke="#555" stroke-width="0.6"/>
<text transform="translate(65.80 423.41) scale(1 1.05)" font-size="7.8" fill="#4d4d4d" text-anchor="end" stroke="#4d4d4d" stroke-width="0.18">0</text>
<line x1="66.60" y1="468.80" x2="68.80" y2="468.80" stroke="#555" stroke-width="0.6"/>
<text transform="translate(65.80 471.61) scale(1 1.05)" font-size="7.8" fill="#4d4d4d" text-anchor="end" stroke="#4d4d4d" stroke-width="0.18">-50</text>
<line x1="100.80" y1="507.30" x2="100.80" y2="509.50" stroke="#555" stroke-width="0.6"/>
<text transform="translate(100.80 515.90) scale(1 1.05)" font-size="7.8" fill="#4d4d4d" text-anchor="middle" stroke="#4d4d4d" stroke-width="0.18">AA</text>
<line x1="154.20" y1="507.30" x2="154.20" y2="509.50" stroke="#555" stroke-width="0.6"/>
<text transform="translate(154.20 515.90) scale(1 1.05)" font-size="7.8" fill="#4d4d4d" text-anchor="middle" stroke="#4d4d4d" stroke-width="0.18">AB</text>
<line x1="207.70" y1="507.30" x2="207.70" y2="509.50" stroke="#555" stroke-width="0.6"/>
<text transform="translate(207.70 515.90) scale(1 1.05)" font-size="7.8" fill="#4d4d4d" text-anchor="middle" stroke="#4d4d4d" stroke-width="0.18">BB</text>
<g stroke="#F8766D" stroke-width="0.8" opacity="0.55"><line x1="100.80" y1="460.00" x2="100.80" y2="473.80"/><line x1="98.20" y1="460.00" x2="103.40" y2="460.00"/><line x1="98.20" y1="473.80" x2="103.40" y2="473.80"/></g>
<g stroke="#F8766D" stroke-width="0.8" opacity="0.55"><line x1="154.20" y1="376.40" x2="154.20" y2="393.60"/><line x1="151.60" y1="376.40" x2="156.80" y2="376.40"/><line x1="151.60" y1="393.60" x2="156.80" y2="393.60"/></g>
<g stroke="#F8766D" stroke-width="0.8" opacity="0.55"><line x1="207.70" y1="385.90" x2="207.70" y2="405.20"/><line x1="205.10" y1="385.90" x2="210.30" y2="385.90"/><line x1="205.10" y1="405.20" x2="210.30" y2="405.20"/></g>
<g stroke="#00BA38" stroke-width="0.8" opacity="0.55"><line x1="100.80" y1="469.60" x2="100.80" y2="481.10"/><line x1="98.20" y1="469.60" x2="103.40" y2="469.60"/><line x1="98.20" y1="481.10" x2="103.40" y2="481.10"/></g>
<g stroke="#00BA38" stroke-width="0.8" opacity="0.55"><line x1="154.20" y1="381.90" x2="154.20" y2="394.20"/><line x1="151.60" y1="381.90" x2="156.80" y2="381.90"/><line x1="151.60" y1="394.20" x2="156.80" y2="394.20"/></g>
<g stroke="#00BA38" stroke-width="0.8" opacity="0.55"><line x1="207.70" y1="366.20" x2="207.70" y2="385.90"/><line x1="205.10" y1="366.20" x2="210.30" y2="366.20"/><line x1="205.10" y1="385.90" x2="210.30" y2="385.90"/></g>
<g stroke="#619CFF" stroke-width="0.8" opacity="0.55"><line x1="100.80" y1="490.60" x2="100.80" y2="500.30"/><line x1="98.20" y1="490.60" x2="103.40" y2="490.60"/><line x1="98.20" y1="500.30" x2="103.40" y2="500.30"/></g>
<g stroke="#619CFF" stroke-width="0.8" opacity="0.55"><line x1="154.20" y1="456.70" x2="154.20" y2="469.70"/><line x1="151.60" y1="456.70" x2="156.80" y2="456.70"/><line x1="151.60" y1="469.70" x2="156.80" y2="469.70"/></g>
<g stroke="#619CFF" stroke-width="0.8" opacity="0.55"><line x1="207.70" y1="440.50" x2="207.70" y2="458.30"/><line x1="205.10" y1="440.50" x2="210.30" y2="440.50"/><line x1="205.10" y1="458.30" x2="210.30" y2="458.30"/></g>
<polyline points="100.80,466.90 154.20,385.00 207.70,395.30" fill="none" stroke="#F8766D" stroke-width="1.9" stroke-linejoin="round"/>
<circle cx="100.80" cy="466.90" r="2.1" fill="#F8766D"/>
<circle cx="154.20" cy="385.00" r="2.1" fill="#F8766D"/>
<circle cx="207.70" cy="395.30" r="2.1" fill="#F8766D"/>
<polyline points="100.80,475.60 154.20,387.90 207.70,376.00" fill="none" stroke="#00BA38" stroke-width="1.9" stroke-linejoin="round"/>
<circle cx="100.80" cy="475.60" r="2.1" fill="#00BA38"/>
<circle cx="154.20" cy="387.90" r="2.1" fill="#00BA38"/>
<circle cx="207.70" cy="376.00" r="2.1" fill="#00BA38"/>
<polyline points="100.80,495.30 154.20,463.20 207.70,449.70" fill="none" stroke="#619CFF" stroke-width="1.9" stroke-linejoin="round"/>
<circle cx="100.80" cy="495.30" r="2.1" fill="#619CFF"/>
<circle cx="154.20" cy="463.20" r="2.1" fill="#619CFF"/>
<circle cx="207.70" cy="449.70" r="2.1" fill="#619CFF"/>
<text transform="translate(94.00 461.50) scale(1 1.05)" font-size="8.8" fill="#111" text-anchor="middle" stroke="#111" stroke-width="0.18">b</text>
<line x1="96.30" y1="461.00" x2="100.20" y2="466.00" stroke="#222" stroke-width="0.55"/>
<text transform="translate(109.80 486.60) scale(1 1.05)" font-size="8.8" fill="#111" text-anchor="middle" stroke="#111" stroke-width="0.18">b</text>
<line x1="102.50" y1="477.10" x2="107.00" y2="481.10" stroke="#222" stroke-width="0.55"/>
<text transform="translate(102.70 507.60) scale(1 1.05)" font-size="8.8" fill="#111" text-anchor="middle" stroke="#111" stroke-width="0.18">b</text>
<text transform="translate(142.90 382.00) scale(1 1.05)" font-size="8.8" fill="#111" text-anchor="middle" stroke="#111" stroke-width="0.18">a</text>
<line x1="144.90" y1="379.30" x2="152.10" y2="383.90" stroke="#222" stroke-width="0.55"/>
<text transform="translate(164.90 400.30) scale(1 1.05)" font-size="8.8" fill="#111" text-anchor="middle" stroke="#111" stroke-width="0.18">a</text>
<line x1="156.00" y1="389.80" x2="160.60" y2="394.40" stroke="#222" stroke-width="0.55"/>
<text transform="translate(200.20 370.80) scale(1 1.05)" font-size="8.8" fill="#111" text-anchor="middle" stroke="#111" stroke-width="0.18">a</text>
<line x1="202.70" y1="369.50" x2="206.60" y2="374.40" stroke="#222" stroke-width="0.55"/>
<text transform="translate(217.10 410.20) scale(1 1.05)" font-size="8.8" fill="#111" text-anchor="middle" stroke="#111" stroke-width="0.18">a</text>
<line x1="208.60" y1="396.40" x2="212.80" y2="401.30" stroke="#222" stroke-width="0.55"/>
<text transform="translate(156.20 479.70) scale(1 1.05)" font-size="8.8" fill="#111" text-anchor="middle" stroke="#111" stroke-width="0.18">a</text>
<text transform="translate(208.70 468.50) scale(1 1.05)" font-size="8.8" fill="#111" text-anchor="middle" stroke="#111" stroke-width="0.18">a</text>
<text transform="translate(50.40 428.70) rotate(-90) scale(1 1.06)" font-size="12.7" fill="#000" text-anchor="middle" stroke="#000" stroke-width="0.28">CL residual value</text>
<text transform="translate(275.90 403.90) scale(1 1.08)" font-size="11.6" fill="#111" text-anchor="middle" stroke="#111" stroke-width="0.28">(<tspan font-style="italic">qCL-1/SbPhyB</tspan>)</text>
<text transform="translate(275.40 417.70) scale(1 1.08)" font-size="11.3" fill="#111" text-anchor="middle" stroke="#111" stroke-width="0.28">SB725</text>
<text transform="translate(251.50 472.90) scale(1 1.08)" font-size="11.3" fill="#111" stroke="#111" stroke-width="0.28">A: <tspan font-style="italic">SbPhyB</tspan></text>
<text transform="translate(251.50 487.00) scale(1 1.08)" font-size="11.3" fill="#111" stroke="#111" stroke-width="0.28">B: <tspan font-style="italic">sbphyB</tspan></text>
<line x1="250.10" y1="431.30" x2="257.70" y2="431.30" stroke="#F8766D" stroke-width="1.8"/>
<circle cx="253.90" cy="431.30" r="2.0" fill="#F8766D"/>
<text transform="translate(263.60 434.14) scale(1 1.05)" font-size="7.9" fill="#4d4d4d" stroke="#4d4d4d" stroke-width="0.18">AA</text>
<line x1="250.10" y1="441.00" x2="257.70" y2="441.00" stroke="#00BA38" stroke-width="1.8"/>
<circle cx="253.90" cy="441.00" r="2.0" fill="#00BA38"/>
<text transform="translate(263.60 443.84) scale(1 1.05)" font-size="7.9" fill="#4d4d4d" stroke="#4d4d4d" stroke-width="0.18">AB</text>
<line x1="250.10" y1="450.60" x2="257.70" y2="450.60" stroke="#619CFF" stroke-width="1.8"/>
<circle cx="253.90" cy="450.60" r="2.0" fill="#619CFF"/>
<text transform="translate(263.60 453.44) scale(1 1.05)" font-size="7.9" fill="#4d4d4d" stroke="#4d4d4d" stroke-width="0.18">BB</text>
<text transform="translate(157.30 535.00) scale(1 1.08)" font-size="11.2" fill="#111" text-anchor="middle" stroke="#111" stroke-width="0.28">SB3387</text>
<text transform="translate(157.60 547.70) scale(1 1.08)" font-size="11.4" fill="#111" text-anchor="middle" stroke="#111" stroke-width="0.28">(<tspan font-style="italic">qCL-6a/SbGhd7</tspan>)</text>
<text transform="translate(208.20 535.00) scale(1 1.08)" font-size="11.3" fill="#111" stroke="#111" stroke-width="0.28">A: <tspan font-style="italic">sbghd7</tspan></text>
<text transform="translate(208.20 547.70) scale(1 1.08)" font-size="11.3" fill="#111" stroke="#111" stroke-width="0.28">B: <tspan font-style="italic">SbGhd7</tspan></text>
<line x1="376.40" y1="360.40" x2="376.40" y2="511.90" stroke="#707070" stroke-width="1.2"/>
<line x1="375.90" y1="511.40" x2="544.70" y2="511.40" stroke="#707070" stroke-width="1.2"/>
<line x1="374.20" y1="369.90" x2="376.40" y2="369.90" stroke="#555" stroke-width="0.6"/>
<text transform="translate(373.40 372.71) scale(1 1.05)" font-size="7.8" fill="#4d4d4d" text-anchor="end" stroke="#4d4d4d" stroke-width="0.18">50</text>
<line x1="374.20" y1="420.40" x2="376.40" y2="420.40" stroke="#555" stroke-width="0.6"/>
<text transform="translate(373.40 423.21) scale(1 1.05)" font-size="7.8" fill="#4d4d4d" text-anchor="end" stroke="#4d4d4d" stroke-width="0.18">0</text>
<line x1="374.20" y1="470.90" x2="376.40" y2="470.90" stroke="#555" stroke-width="0.6"/>
<text transform="translate(373.40 473.71) scale(1 1.05)" font-size="7.8" fill="#4d4d4d" text-anchor="end" stroke="#4d4d4d" stroke-width="0.18">-50</text>
<line x1="408.00" y1="511.40" x2="408.00" y2="513.60" stroke="#555" stroke-width="0.6"/>
<text transform="translate(408.00 520.10) scale(1 1.05)" font-size="7.8" fill="#4d4d4d" text-anchor="middle" stroke="#4d4d4d" stroke-width="0.18">AA</text>
<line x1="460.50" y1="511.40" x2="460.50" y2="513.60" stroke="#555" stroke-width="0.6"/>
<text transform="translate(460.50 520.10) scale(1 1.05)" font-size="7.8" fill="#4d4d4d" text-anchor="middle" stroke="#4d4d4d" stroke-width="0.18">AB</text>
<line x1="513.20" y1="511.40" x2="513.20" y2="513.60" stroke="#555" stroke-width="0.6"/>
<text transform="translate(513.20 520.10) scale(1 1.05)" font-size="7.8" fill="#4d4d4d" text-anchor="middle" stroke="#4d4d4d" stroke-width="0.18">BB</text>
<g stroke="#F8766D" stroke-width="0.8" opacity="0.55"><line x1="408.00" y1="367.40" x2="408.00" y2="389.30"/><line x1="405.40" y1="367.40" x2="410.60" y2="367.40"/><line x1="405.40" y1="389.30" x2="410.60" y2="389.30"/></g>
<g stroke="#F8766D" stroke-width="0.8" opacity="0.55"><line x1="460.50" y1="392.50" x2="460.50" y2="410.50"/><line x1="457.90" y1="392.50" x2="463.10" y2="392.50"/><line x1="457.90" y1="410.50" x2="463.10" y2="410.50"/></g>
<g stroke="#F8766D" stroke-width="0.8" opacity="0.55"><line x1="513.20" y1="441.00" x2="513.20" y2="464.40"/><line x1="510.60" y1="441.00" x2="515.80" y2="441.00"/><line x1="510.60" y1="464.40" x2="515.80" y2="464.40"/></g>
<g stroke="#00BA38" stroke-width="0.8" opacity="0.55"><line x1="408.00" y1="369.60" x2="408.00" y2="387.40"/><line x1="405.40" y1="369.60" x2="410.60" y2="369.60"/><line x1="405.40" y1="387.40" x2="410.60" y2="387.40"/></g>
<g stroke="#00BA38" stroke-width="0.8" opacity="0.55"><line x1="460.50" y1="393.70" x2="460.50" y2="406.80"/><line x1="457.90" y1="393.70" x2="463.10" y2="393.70"/><line x1="457.90" y1="406.80" x2="463.10" y2="406.80"/></g>
<g stroke="#00BA38" stroke-width="0.8" opacity="0.55"><line x1="513.20" y1="448.50" x2="513.20" y2="467.90"/><line x1="510.60" y1="448.50" x2="515.80" y2="448.50"/><line x1="510.60" y1="467.90" x2="515.80" y2="467.90"/></g>
<g stroke="#619CFF" stroke-width="0.8" opacity="0.55"><line x1="408.00" y1="446.20" x2="408.00" y2="466.00"/><line x1="405.40" y1="446.20" x2="410.60" y2="446.20"/><line x1="405.40" y1="466.00" x2="410.60" y2="466.00"/></g>
<g stroke="#619CFF" stroke-width="0.8" opacity="0.55"><line x1="460.50" y1="456.20" x2="460.50" y2="469.50"/><line x1="457.90" y1="456.20" x2="463.10" y2="456.20"/><line x1="457.90" y1="469.50" x2="463.10" y2="469.50"/></g>
<g stroke="#619CFF" stroke-width="0.8" opacity="0.55"><line x1="513.20" y1="488.90" x2="513.20" y2="504.60"/><line x1="510.60" y1="488.90" x2="515.80" y2="488.90"/><line x1="510.60" y1="504.60" x2="515.80" y2="504.60"/></g>
<polyline points="408.00,378.40 460.50,401.50 513.20,452.70" fill="none" stroke="#F8766D" stroke-width="1.9" stroke-linejoin="round"/>
<circle cx="408.00" cy="378.40" r="2.1" fill="#F8766D"/>
<circle cx="460.50" cy="401.50" r="2.1" fill="#F8766D"/>
<circle cx="513.20" cy="452.70" r="2.1" fill="#F8766D"/>
<polyline points="408.00,378.40 460.50,400.70 513.20,457.80" fill="none" stroke="#00BA38" stroke-width="1.9" stroke-linejoin="round"/>
<circle cx="408.00" cy="378.40" r="2.1" fill="#00BA38"/>
<circle cx="460.50" cy="400.70" r="2.1" fill="#00BA38"/>
<circle cx="513.20" cy="457.80" r="2.1" fill="#00BA38"/>
<polyline points="408.00,456.20 460.50,462.70 513.20,496.60" fill="none" stroke="#619CFF" stroke-width="1.9" stroke-linejoin="round"/>
<circle cx="408.00" cy="456.20" r="2.1" fill="#619CFF"/>
<circle cx="460.50" cy="462.70" r="2.1" fill="#619CFF"/>
<circle cx="513.20" cy="496.60" r="2.1" fill="#619CFF"/>
<text transform="translate(420.20 374.00) scale(1 1.05)" font-size="8.8" fill="#111" text-anchor="middle" stroke="#111" stroke-width="0.18">a</text>
<line x1="409.10" y1="376.60" x2="415.70" y2="371.80" stroke="#222" stroke-width="0.55"/>
<text transform="translate(400.80 392.20) scale(1 1.05)" font-size="8.8" fill="#111" text-anchor="middle" stroke="#111" stroke-width="0.18">a</text>
<line x1="402.20" y1="384.90" x2="406.90" y2="379.10" stroke="#222" stroke-width="0.55"/>
<text transform="translate(472.80 397.30) scale(1 1.05)" font-size="8.8" fill="#111" text-anchor="middle" stroke="#111" stroke-width="0.18">a</text>
<line x1="462.40" y1="399.50" x2="468.20" y2="394.40" stroke="#222" stroke-width="0.55"/>
<text transform="translate(451.50 412.70) scale(1 1.05)" font-size="8.8" fill="#111" text-anchor="middle" stroke="#111" stroke-width="0.18">a</text>
<line x1="454.80" y1="406.40" x2="459.50" y2="402.40" stroke="#222" stroke-width="0.55"/>
<text transform="translate(525.40 448.00) scale(1 1.05)" font-size="8.8" fill="#111" text-anchor="middle" stroke="#111" stroke-width="0.18">b</text>
<line x1="513.50" y1="455.00" x2="521.20" y2="447.60" stroke="#222" stroke-width="0.55"/>
<text transform="translate(504.40 467.90) scale(1 1.05)" font-size="8.8" fill="#111" text-anchor="middle" stroke="#111" stroke-width="0.18">b</text>
<line x1="506.50" y1="462.00" x2="512.30" y2="458.50" stroke="#222" stroke-width="0.55"/>
<text transform="translate(515.20 512.30) scale(1 1.05)" font-size="8.8" fill="#111" text-anchor="middle" stroke="#111" stroke-width="0.18">b</text>
<text transform="translate(409.90 476.10) scale(1 1.05)" font-size="8.8" fill="#111" text-anchor="middle" stroke="#111" stroke-width="0.18">a</text>
<text transform="translate(462.90 481.20) scale(1 1.05)" font-size="8.8" fill="#111" text-anchor="middle" stroke="#111" stroke-width="0.18">a</text>
<text transform="translate(357.00 435.10) rotate(-90) scale(1 1.06)" font-size="12.7" fill="#000" text-anchor="middle" stroke="#000" stroke-width="0.28">CL residual value</text>
<text transform="translate(574.70 404.50) scale(1 1.08)" font-size="11.6" fill="#111" text-anchor="middle" stroke="#111" stroke-width="0.28">(<tspan font-style="italic">qCL-1/SbPhyB</tspan>)</text>
<text transform="translate(574.60 418.50) scale(1 1.08)" font-size="11.3" fill="#111" text-anchor="middle" stroke="#111" stroke-width="0.28">SB725</text>
<text transform="translate(556.90 476.40) scale(1 1.08)" font-size="11.3" fill="#111" stroke="#111" stroke-width="0.28">A: <tspan font-style="italic">SbPhyB</tspan></text>
<text transform="translate(556.90 490.40) scale(1 1.08)" font-size="11.3" fill="#111" stroke="#111" stroke-width="0.28">B: <tspan font-style="italic">sbphyB</tspan></text>
<line x1="555.20" y1="433.40" x2="562.80" y2="433.40" stroke="#F8766D" stroke-width="1.8"/>
<circle cx="559.00" cy="433.40" r="2.0" fill="#F8766D"/>
<text transform="translate(568.50 436.24) scale(1 1.05)" font-size="7.9" fill="#4d4d4d" stroke="#4d4d4d" stroke-width="0.18">AA</text>
<line x1="555.20" y1="443.40" x2="562.80" y2="443.40" stroke="#00BA38" stroke-width="1.8"/>
<circle cx="559.00" cy="443.40" r="2.0" fill="#00BA38"/>
<text transform="translate(568.50 446.24) scale(1 1.05)" font-size="7.9" fill="#4d4d4d" stroke="#4d4d4d" stroke-width="0.18">AB</text>
<line x1="555.20" y1="453.20" x2="562.80" y2="453.20" stroke="#619CFF" stroke-width="1.8"/>
<circle cx="559.00" cy="453.20" r="2.0" fill="#619CFF"/>
<text transform="translate(568.50 456.04) scale(1 1.05)" font-size="7.9" fill="#4d4d4d" stroke="#4d4d4d" stroke-width="0.18">BB</text>
<text transform="translate(468.60 542.50) scale(1 1.08)" font-size="11.2" fill="#111" text-anchor="middle" stroke="#111" stroke-width="0.28">Xtxp107</text>
<text transform="translate(468.50 555.20) scale(1 1.08)" font-size="11.4" fill="#111" text-anchor="middle" stroke="#111" stroke-width="0.28">(<tspan font-style="italic">qCL-9/Dw1</tspan>)</text>
<text transform="translate(508.90 542.50) scale(1 1.08)" font-size="11.3" fill="#111" stroke="#111" stroke-width="0.28">A: <tspan font-style="italic">Dw1</tspan></text>
<text transform="translate(508.90 555.20) scale(1 1.08)" font-size="11.3" fill="#111" stroke="#111" stroke-width="0.28">B: <tspan font-style="italic">dw1</tspan></text>
<line x1="27.70" y1="629.40" x2="27.70" y2="755.60" stroke="#707070" stroke-width="1.2"/>
<line x1="27.20" y1="755.10" x2="161.90" y2="755.10" stroke="#707070" stroke-width="1.2"/>
<line x1="25.50" y1="635.64" x2="27.70" y2="635.64" stroke="#555" stroke-width="0.6"/>
<text transform="translate(24.70 638.09) scale(1 1.05)" font-size="6.8" fill="#4d4d4d" text-anchor="end" stroke="#4d4d4d" stroke-width="0.18">40</text>
<line x1="25.50" y1="659.02" x2="27.70" y2="659.02" stroke="#555" stroke-width="0.6"/>
<text transform="translate(24.70 661.47) scale(1 1.05)" font-size="6.8" fill="#4d4d4d" text-anchor="end" stroke="#4d4d4d" stroke-width="0.18">20</text>
<line x1="25.50" y1="682.40" x2="27.70" y2="682.40" stroke="#555" stroke-width="0.6"/>
<text transform="translate(24.70 684.85) scale(1 1.05)" font-size="6.8" fill="#4d4d4d" text-anchor="end" stroke="#4d4d4d" stroke-width="0.18">0</text>
<line x1="25.50" y1="705.78" x2="27.70" y2="705.78" stroke="#555" stroke-width="0.6"/>
<text transform="translate(24.70 708.23) scale(1 1.05)" font-size="6.8" fill="#4d4d4d" text-anchor="end" stroke="#4d4d4d" stroke-width="0.18">-20</text>
<line x1="25.50" y1="729.16" x2="27.70" y2="729.16" stroke="#555" stroke-width="0.6"/>
<text transform="translate(24.70 731.61) scale(1 1.05)" font-size="6.8" fill="#4d4d4d" text-anchor="end" stroke="#4d4d4d" stroke-width="0.18">-40</text>
<line x1="25.50" y1="752.54" x2="27.70" y2="752.54" stroke="#555" stroke-width="0.6"/>
<text transform="translate(24.70 754.99) scale(1 1.05)" font-size="6.8" fill="#4d4d4d" text-anchor="end" stroke="#4d4d4d" stroke-width="0.18">-60</text>
<line x1="52.70" y1="755.10" x2="52.70" y2="757.30" stroke="#555" stroke-width="0.6"/>
<text transform="translate(52.70 762.40) scale(1 1.05)" font-size="6.8" fill="#4d4d4d" text-anchor="middle" stroke="#4d4d4d" stroke-width="0.18">AA</text>
<line x1="95.00" y1="755.10" x2="95.00" y2="757.30" stroke="#555" stroke-width="0.6"/>
<text transform="translate(95.00 762.40) scale(1 1.05)" font-size="6.8" fill="#4d4d4d" text-anchor="middle" stroke="#4d4d4d" stroke-width="0.18">AB</text>
<line x1="137.00" y1="755.10" x2="137.00" y2="757.30" stroke="#555" stroke-width="0.6"/>
<text transform="translate(137.00 762.40) scale(1 1.05)" font-size="6.8" fill="#4d4d4d" text-anchor="middle" stroke="#4d4d4d" stroke-width="0.18">BB</text>
<g stroke="#F8766D" stroke-width="0.8" opacity="0.55"><line x1="52.70" y1="709.50" x2="52.70" y2="719.50"/><line x1="50.10" y1="709.50" x2="55.30" y2="709.50"/><line x1="50.10" y1="719.50" x2="55.30" y2="719.50"/></g>
<g stroke="#F8766D" stroke-width="0.8" opacity="0.55"><line x1="95.00" y1="635.30" x2="95.00" y2="641.90"/><line x1="92.40" y1="635.30" x2="97.60" y2="635.30"/><line x1="92.40" y1="641.90" x2="97.60" y2="641.90"/></g>
<g stroke="#F8766D" stroke-width="0.8" opacity="0.55"><line x1="137.00" y1="637.80" x2="137.00" y2="646.60"/><line x1="134.40" y1="637.80" x2="139.60" y2="637.80"/><line x1="134.40" y1="646.60" x2="139.60" y2="646.60"/></g>
<g stroke="#00BA38" stroke-width="0.8" opacity="0.55"><line x1="52.70" y1="726.30" x2="52.70" y2="732.00"/><line x1="50.10" y1="726.30" x2="55.30" y2="726.30"/><line x1="50.10" y1="732.00" x2="55.30" y2="732.00"/></g>
<g stroke="#00BA38" stroke-width="0.8" opacity="0.55"><line x1="95.00" y1="653.10" x2="95.00" y2="659.90"/><line x1="92.40" y1="653.10" x2="97.60" y2="653.10"/><line x1="92.40" y1="659.90" x2="97.60" y2="659.90"/></g>
<g stroke="#00BA38" stroke-width="0.8" opacity="0.55"><line x1="137.00" y1="650.20" x2="137.00" y2="658.40"/><line x1="134.40" y1="650.20" x2="139.60" y2="650.20"/><line x1="134.40" y1="658.40" x2="139.60" y2="658.40"/></g>
<g stroke="#619CFF" stroke-width="0.8" opacity="0.55"><line x1="52.70" y1="746.60" x2="52.70" y2="749.60"/><line x1="50.10" y1="746.60" x2="55.30" y2="746.60"/><line x1="50.10" y1="749.60" x2="55.30" y2="749.60"/></g>
<g stroke="#619CFF" stroke-width="0.8" opacity="0.55"><line x1="95.00" y1="725.30" x2="95.00" y2="731.40"/><line x1="92.40" y1="725.30" x2="97.60" y2="725.30"/><line x1="92.40" y1="731.40" x2="97.60" y2="731.40"/></g>
<g stroke="#619CFF" stroke-width="0.8" opacity="0.55"><line x1="137.00" y1="717.50" x2="137.00" y2="730.40"/><line x1="134.40" y1="717.50" x2="139.60" y2="717.50"/><line x1="134.40" y1="730.40" x2="139.60" y2="730.40"/></g>
<polyline points="52.70,714.60 95.00,638.80 137.00,642.10" fill="none" stroke="#F8766D" stroke-width="1.65" stroke-linejoin="round"/>
<circle cx="52.70" cy="714.60" r="1.8" fill="#F8766D"/>
<circle cx="95.00" cy="638.80" r="1.8" fill="#F8766D"/>
<circle cx="137.00" cy="642.10" r="1.8" fill="#F8766D"/>
<polyline points="52.70,729.30 95.00,656.40 137.00,654.30" fill="none" stroke="#00BA38" stroke-width="1.65" stroke-linejoin="round"/>
<circle cx="52.70" cy="729.30" r="1.8" fill="#00BA38"/>
<circle cx="95.00" cy="656.40" r="1.8" fill="#00BA38"/>
<circle cx="137.00" cy="654.30" r="1.8" fill="#00BA38"/>
<polyline points="52.70,748.10 95.00,728.30 137.00,723.80" fill="none" stroke="#619CFF" stroke-width="1.65" stroke-linejoin="round"/>
<circle cx="52.70" cy="748.10" r="1.8" fill="#619CFF"/>
<circle cx="95.00" cy="728.30" r="1.8" fill="#619CFF"/>
<circle cx="137.00" cy="723.80" r="1.8" fill="#619CFF"/>
<text transform="translate(101.50 635.30) scale(1 1.05)" font-size="8.9" fill="#111" text-anchor="middle" stroke="#111" stroke-width="0.18">a</text>
<text transform="translate(146.20 642.10) scale(1 1.05)" font-size="8.9" fill="#111" text-anchor="middle" stroke="#111" stroke-width="0.18">a</text>
<text transform="translate(97.20 672.10) scale(1 1.05)" font-size="8.9" fill="#111" text-anchor="middle" stroke="#111" stroke-width="0.18">a</text>
<text transform="translate(135.30 666.60) scale(1 1.05)" font-size="8.9" fill="#111" text-anchor="middle" stroke="#111" stroke-width="0.18">a</text>
<text transform="translate(54.00 705.80) scale(1 1.05)" font-size="8.9" fill="#111" text-anchor="middle" stroke="#111" stroke-width="0.18">b</text>
<text transform="translate(52.20 739.60) scale(1 1.05)" font-size="8.9" fill="#111" text-anchor="middle" stroke="#111" stroke-width="0.18">b</text>
<text transform="translate(58.70 754.90) scale(1 1.05)" font-size="8.9" fill="#111" text-anchor="middle" stroke="#111" stroke-width="0.18">b</text>
<text transform="translate(98.60 742.60) scale(1 1.05)" font-size="8.9" fill="#111" text-anchor="middle" stroke="#111" stroke-width="0.18">a</text>
<text transform="translate(141.10 741.60) scale(1 1.05)" font-size="8.9" fill="#111" text-anchor="middle" stroke="#111" stroke-width="0.18">a</text>
<text transform="translate(12.75 687.00) rotate(-90) scale(1 1.1)" font-size="12.7" fill="#000" text-anchor="middle" stroke="#000" stroke-width="0.28">FD residual value</text>
<text transform="translate(198.70 667.10) scale(1 1.08)" font-size="11.6" fill="#111" text-anchor="middle" stroke="#111" stroke-width="0.28">(<tspan font-style="italic">qFD-1/SbPhyB</tspan>)</text>
<text transform="translate(198.40 679.80) scale(1 1.08)" font-size="11.3" fill="#111" text-anchor="middle" stroke="#111" stroke-width="0.28">SB725</text>
<text transform="translate(172.50 726.00) scale(1 1.08)" font-size="11.3" fill="#111" stroke="#111" stroke-width="0.28">A: <tspan font-style="italic">SbPhyB</tspan></text>
<text transform="translate(172.50 738.60) scale(1 1.08)" font-size="11.3" fill="#111" stroke="#111" stroke-width="0.28">B: <tspan font-style="italic">sbphyB</tspan></text>
<line x1="170.60" y1="690.50" x2="177.00" y2="690.50" stroke="#F8766D" stroke-width="1.8"/>
<circle cx="173.80" cy="690.50" r="2.0" fill="#F8766D"/>
<text transform="translate(181.60 692.80) scale(1 1.05)" font-size="6.4" fill="#4d4d4d" stroke="#4d4d4d" stroke-width="0.18">AA</text>
<line x1="170.60" y1="698.50" x2="177.00" y2="698.50" stroke="#00BA38" stroke-width="1.8"/>
<circle cx="173.80" cy="698.50" r="2.0" fill="#00BA38"/>
<text transform="translate(181.60 700.80) scale(1 1.05)" font-size="6.4" fill="#4d4d4d" stroke="#4d4d4d" stroke-width="0.18">AB</text>
<line x1="170.60" y1="706.60" x2="177.00" y2="706.60" stroke="#619CFF" stroke-width="1.8"/>
<circle cx="173.80" cy="706.60" r="2.0" fill="#619CFF"/>
<text transform="translate(181.60 708.90) scale(1 1.05)" font-size="6.4" fill="#4d4d4d" stroke="#4d4d4d" stroke-width="0.18">BB</text>
<text transform="translate(90.20 782.00) scale(1 1.08)" font-size="11.2" fill="#111" text-anchor="middle" stroke="#111" stroke-width="0.28">SB3387</text>
<text transform="translate(90.30 795.30) scale(1 1.08)" font-size="11.4" fill="#111" text-anchor="middle" stroke="#111" stroke-width="0.28">(<tspan font-style="italic">qFD-6a/SbGhd7</tspan>)</text>
<text transform="translate(139.00 782.00) scale(1 1.08)" font-size="11.3" fill="#111" stroke="#111" stroke-width="0.28">A: <tspan font-style="italic">sbghd7</tspan></text>
<text transform="translate(139.00 795.30) scale(1 1.08)" font-size="11.3" fill="#111" stroke="#111" stroke-width="0.28">B: <tspan font-style="italic">SbGhd7</tspan></text>
<line x1="270.50" y1="635.00" x2="270.50" y2="756.40" stroke="#707070" stroke-width="1.2"/>
<line x1="270.00" y1="755.90" x2="412.90" y2="755.90" stroke="#707070" stroke-width="1.2"/>
<line x1="268.30" y1="659.69" x2="270.50" y2="659.69" stroke="#555" stroke-width="0.6"/>
<text transform="translate(267.50 662.14) scale(1 1.05)" font-size="6.8" fill="#4d4d4d" text-anchor="end" stroke="#4d4d4d" stroke-width="0.18">20</text>
<line x1="268.30" y1="685.20" x2="270.50" y2="685.20" stroke="#555" stroke-width="0.6"/>
<text transform="translate(267.50 687.65) scale(1 1.05)" font-size="6.8" fill="#4d4d4d" text-anchor="end" stroke="#4d4d4d" stroke-width="0.18">0</text>
<line x1="268.30" y1="710.71" x2="270.50" y2="710.71" stroke="#555" stroke-width="0.6"/>
<text transform="translate(267.50 713.16) scale(1 1.05)" font-size="6.8" fill="#4d4d4d" text-anchor="end" stroke="#4d4d4d" stroke-width="0.18">-20</text>
<line x1="268.30" y1="736.22" x2="270.50" y2="736.22" stroke="#555" stroke-width="0.6"/>
<text transform="translate(267.50 738.67) scale(1 1.05)" font-size="6.8" fill="#4d4d4d" text-anchor="end" stroke="#4d4d4d" stroke-width="0.18">-40</text>
<line x1="297.20" y1="755.90" x2="297.20" y2="758.10" stroke="#555" stroke-width="0.6"/>
<text transform="translate(297.20 763.20) scale(1 1.05)" font-size="6.8" fill="#4d4d4d" text-anchor="middle" stroke="#4d4d4d" stroke-width="0.18">AA</text>
<line x1="341.70" y1="755.90" x2="341.70" y2="758.10" stroke="#555" stroke-width="0.6"/>
<text transform="translate(341.70 763.20) scale(1 1.05)" font-size="6.8" fill="#4d4d4d" text-anchor="middle" stroke="#4d4d4d" stroke-width="0.18">AB</text>
<line x1="386.30" y1="755.90" x2="386.30" y2="758.10" stroke="#555" stroke-width="0.6"/>
<text transform="translate(386.30 763.20) scale(1 1.05)" font-size="6.8" fill="#4d4d4d" text-anchor="middle" stroke="#4d4d4d" stroke-width="0.18">BB</text>
<g stroke="#F8766D" stroke-width="0.8" opacity="0.55"><line x1="297.20" y1="657.20" x2="297.20" y2="675.40"/><line x1="294.60" y1="657.20" x2="299.80" y2="657.20"/><line x1="294.60" y1="675.40" x2="299.80" y2="675.40"/></g>
<g stroke="#F8766D" stroke-width="0.8" opacity="0.55"><line x1="341.70" y1="640.80" x2="341.70" y2="652.40"/><line x1="339.10" y1="640.80" x2="344.30" y2="640.80"/><line x1="339.10" y1="652.40" x2="344.30" y2="652.40"/></g>
<g stroke="#F8766D" stroke-width="0.8" opacity="0.55"><line x1="386.30" y1="671.40" x2="386.30" y2="682.40"/><line x1="383.70" y1="671.40" x2="388.90" y2="671.40"/><line x1="383.70" y1="682.40" x2="388.90" y2="682.40"/></g>
<g stroke="#00BA38" stroke-width="0.8" opacity="0.55"><line x1="297.20" y1="693.30" x2="297.20" y2="705.60"/><line x1="294.60" y1="693.30" x2="299.80" y2="693.30"/><line x1="294.60" y1="705.60" x2="299.80" y2="705.60"/></g>
<g stroke="#00BA38" stroke-width="0.8" opacity="0.55"><line x1="341.70" y1="653.50" x2="341.70" y2="662.20"/><line x1="339.10" y1="653.50" x2="344.30" y2="653.50"/><line x1="339.10" y1="662.20" x2="344.30" y2="662.20"/></g>
<g stroke="#00BA38" stroke-width="0.8" opacity="0.55"><line x1="386.30" y1="695.50" x2="386.30" y2="702.70"/><line x1="383.70" y1="695.50" x2="388.90" y2="695.50"/><line x1="383.70" y1="702.70" x2="388.90" y2="702.70"/></g>
<g stroke="#619CFF" stroke-width="0.8" opacity="0.55"><line x1="297.20" y1="727.50" x2="297.20" y2="741.00"/><line x1="294.60" y1="727.50" x2="299.80" y2="727.50"/><line x1="294.60" y1="741.00" x2="299.80" y2="741.00"/></g>
<g stroke="#619CFF" stroke-width="0.8" opacity="0.55"><line x1="341.70" y1="731.20" x2="341.70" y2="740.00"/><line x1="339.10" y1="731.20" x2="344.30" y2="731.20"/><line x1="339.10" y1="740.00" x2="344.30" y2="740.00"/></g>
<g stroke="#619CFF" stroke-width="0.8" opacity="0.55"><line x1="386.30" y1="743.20" x2="386.30" y2="750.20"/><line x1="383.70" y1="743.20" x2="388.90" y2="743.20"/><line x1="383.70" y1="750.20" x2="388.90" y2="750.20"/></g>
<polyline points="297.20,666.20 341.70,646.50 386.30,676.90" fill="none" stroke="#F8766D" stroke-width="1.65" stroke-linejoin="round"/>
<circle cx="297.20" cy="666.20" r="1.8" fill="#F8766D"/>
<circle cx="341.70" cy="646.50" r="1.8" fill="#F8766D"/>
<circle cx="386.30" cy="676.90" r="1.8" fill="#F8766D"/>
<polyline points="297.20,699.40 341.70,658.30 386.30,699.00" fill="none" stroke="#00BA38" stroke-width="1.65" stroke-linejoin="round"/>
<circle cx="297.20" cy="699.40" r="1.8" fill="#00BA38"/>
<circle cx="341.70" cy="658.30" r="1.8" fill="#00BA38"/>
<circle cx="386.30" cy="699.00" r="1.8" fill="#00BA38"/>
<polyline points="297.20,734.00 341.70,735.60 386.30,746.50" fill="none" stroke="#619CFF" stroke-width="1.65" stroke-linejoin="round"/>
<circle cx="297.20" cy="734.00" r="1.8" fill="#619CFF"/>
<circle cx="341.70" cy="735.60" r="1.8" fill="#619CFF"/>
<circle cx="386.30" cy="746.50" r="1.8" fill="#619CFF"/>
<text transform="translate(305.80 660.50) scale(1 1.05)" font-size="8.9" fill="#111" text-anchor="middle" stroke="#111" stroke-width="0.18">ab</text>
<text transform="translate(349.20 643.60) scale(1 1.05)" font-size="8.9" fill="#111" text-anchor="middle" stroke="#111" stroke-width="0.18">a</text>
<text transform="translate(396.10 675.80) scale(1 1.05)" font-size="8.9" fill="#111" text-anchor="middle" stroke="#111" stroke-width="0.18">b</text>
<text transform="translate(341.80 674.90) scale(1 1.05)" font-size="8.9" fill="#111" text-anchor="middle" stroke="#111" stroke-width="0.18">a</text>
<text transform="translate(294.70 710.80) scale(1 1.05)" font-size="8.9" fill="#111" text-anchor="middle" stroke="#111" stroke-width="0.18">b</text>
<text transform="translate(385.10 710.80) scale(1 1.05)" font-size="8.9" fill="#111" text-anchor="middle" stroke="#111" stroke-width="0.18">b</text>
<text transform="translate(299.70 753.10) scale(1 1.05)" font-size="8.9" fill="#111" text-anchor="middle" stroke="#111" stroke-width="0.18">a</text>
<text transform="translate(344.00 752.00) scale(1 1.05)" font-size="8.9" fill="#111" text-anchor="middle" stroke="#111" stroke-width="0.18">a</text>
<text transform="translate(389.50 756.40) scale(1 1.05)" font-size="8.9" fill="#111" text-anchor="middle" stroke="#111" stroke-width="0.18">a</text>
<text transform="translate(256.50 697.00) rotate(-90)" font-size="12.7" fill="#000" text-anchor="middle" stroke="#000" stroke-width="0.28">FD residual value</text>
<text transform="translate(434.40 664.00) scale(1 1.08)" font-size="11.6" fill="#111" text-anchor="middle" stroke="#111" stroke-width="0.28">(<tspan font-style="italic">qFD-1/SbPhyB</tspan>)</text>
<text transform="translate(434.50 678.10) scale(1 1.08)" font-size="11.3" fill="#111" text-anchor="middle" stroke="#111" stroke-width="0.28">SB725</text>
<text transform="translate(408.70 726.30) scale(1 1.08)" font-size="11.3" fill="#111" stroke="#111" stroke-width="0.28">A: <tspan font-style="italic">SbPhyB</tspan></text>
<text transform="translate(408.70 739.00) scale(1 1.08)" font-size="11.3" fill="#111" stroke="#111" stroke-width="0.28">B: <tspan font-style="italic">sbphyB</tspan></text>
<line x1="422.30" y1="693.20" x2="428.70" y2="693.20" stroke="#F8766D" stroke-width="1.8"/>
<circle cx="425.50" cy="693.20" r="2.0" fill="#F8766D"/>
<text transform="translate(434.60 695.50) scale(1 1.05)" font-size="6.4" fill="#4d4d4d" stroke="#4d4d4d" stroke-width="0.18">AA</text>
<line x1="422.30" y1="701.20" x2="428.70" y2="701.20" stroke="#00BA38" stroke-width="1.8"/>
<circle cx="425.50" cy="701.20" r="2.0" fill="#00BA38"/>
<text transform="translate(434.60 703.50) scale(1 1.05)" font-size="6.4" fill="#4d4d4d" stroke="#4d4d4d" stroke-width="0.18">AB</text>
<line x1="422.30" y1="709.30" x2="428.70" y2="709.30" stroke="#619CFF" stroke-width="1.8"/>
<circle cx="425.50" cy="709.30" r="2.0" fill="#619CFF"/>
<text transform="translate(434.60 711.60) scale(1 1.05)" font-size="6.4" fill="#4d4d4d" stroke="#4d4d4d" stroke-width="0.18">BB</text>
<text transform="translate(341.60 780.40) scale(1 1.08)" font-size="11.2" fill="#111" text-anchor="middle" stroke="#111" stroke-width="0.28">SB3481</text>
<text transform="translate(341.40 793.30) scale(1 1.08)" font-size="11.4" fill="#111" text-anchor="middle" stroke="#111" stroke-width="0.28">(<tspan font-style="italic">qFD-6b</tspan>)</text>
<line x1="502.40" y1="631.00" x2="502.40" y2="755.30" stroke="#707070" stroke-width="1.2"/>
<line x1="501.90" y1="754.80" x2="643.70" y2="754.80" stroke="#707070" stroke-width="1.2"/>
<line x1="500.20" y1="654.55" x2="502.40" y2="654.55" stroke="#555" stroke-width="0.6"/>
<text transform="translate(499.40 657.00) scale(1 1.05)" font-size="6.8" fill="#4d4d4d" text-anchor="end" stroke="#4d4d4d" stroke-width="0.18">20</text>
<line x1="500.20" y1="692.30" x2="502.40" y2="692.30" stroke="#555" stroke-width="0.6"/>
<text transform="translate(499.40 694.75) scale(1 1.05)" font-size="6.8" fill="#4d4d4d" text-anchor="end" stroke="#4d4d4d" stroke-width="0.18">0</text>
<line x1="500.20" y1="730.05" x2="502.40" y2="730.05" stroke="#555" stroke-width="0.6"/>
<text transform="translate(499.40 732.50) scale(1 1.05)" font-size="6.8" fill="#4d4d4d" text-anchor="end" stroke="#4d4d4d" stroke-width="0.18">-20</text>
<line x1="528.80" y1="754.80" x2="528.80" y2="757.00" stroke="#555" stroke-width="0.6"/>
<text transform="translate(528.80 762.00) scale(1 1.05)" font-size="6.8" fill="#4d4d4d" text-anchor="middle" stroke="#4d4d4d" stroke-width="0.18">AA</text>
<line x1="572.80" y1="754.80" x2="572.80" y2="757.00" stroke="#555" stroke-width="0.6"/>
<text transform="translate(572.80 762.00) scale(1 1.05)" font-size="6.8" fill="#4d4d4d" text-anchor="middle" stroke="#4d4d4d" stroke-width="0.18">AB</text>
<line x1="617.00" y1="754.80" x2="617.00" y2="757.00" stroke="#555" stroke-width="0.6"/>
<text transform="translate(617.00 762.00) scale(1 1.05)" font-size="6.8" fill="#4d4d4d" text-anchor="middle" stroke="#4d4d4d" stroke-width="0.18">BB</text>
<g stroke="#F8766D" stroke-width="0.8" opacity="0.55"><line x1="528.80" y1="686.10" x2="528.80" y2="713.10"/><line x1="526.20" y1="686.10" x2="531.40" y2="686.10"/><line x1="526.20" y1="713.10" x2="531.40" y2="713.10"/></g>
<g stroke="#F8766D" stroke-width="0.8" opacity="0.55"><line x1="572.80" y1="636.40" x2="572.80" y2="655.50"/><line x1="570.20" y1="636.40" x2="575.40" y2="636.40"/><line x1="570.20" y1="655.50" x2="575.40" y2="655.50"/></g>
<g stroke="#F8766D" stroke-width="0.8" opacity="0.55"><line x1="617.00" y1="708.70" x2="617.00" y2="724.70"/><line x1="614.40" y1="708.70" x2="619.60" y2="708.70"/><line x1="614.40" y1="724.70" x2="619.60" y2="724.70"/></g>
<g stroke="#00BA38" stroke-width="0.8" opacity="0.55"><line x1="528.80" y1="700.60" x2="528.80" y2="719.20"/><line x1="526.20" y1="700.60" x2="531.40" y2="700.60"/><line x1="526.20" y1="719.20" x2="531.40" y2="719.20"/></g>
<g stroke="#00BA38" stroke-width="0.8" opacity="0.55"><line x1="572.80" y1="657.70" x2="572.80" y2="671.50"/><line x1="570.20" y1="657.70" x2="575.40" y2="657.70"/><line x1="570.20" y1="671.50" x2="575.40" y2="671.50"/></g>
<g stroke="#00BA38" stroke-width="0.8" opacity="0.55"><line x1="617.00" y1="725.50" x2="617.00" y2="740.00"/><line x1="614.40" y1="725.50" x2="619.60" y2="725.50"/><line x1="614.40" y1="740.00" x2="619.60" y2="740.00"/></g>
<g stroke="#619CFF" stroke-width="0.8" opacity="0.55"><line x1="528.80" y1="725.50" x2="528.80" y2="749.20"/><line x1="526.20" y1="725.50" x2="531.40" y2="725.50"/><line x1="526.20" y1="749.20" x2="531.40" y2="749.20"/></g>
<g stroke="#619CFF" stroke-width="0.8" opacity="0.55"><line x1="572.80" y1="691.60" x2="572.80" y2="712.00"/><line x1="570.20" y1="691.60" x2="575.40" y2="691.60"/><line x1="570.20" y1="712.00" x2="575.40" y2="712.00"/></g>
<g stroke="#619CFF" stroke-width="0.8" opacity="0.55"><line x1="617.00" y1="682.40" x2="617.00" y2="706.50"/><line x1="614.40" y1="682.40" x2="619.60" y2="682.40"/><line x1="614.40" y1="706.50" x2="619.60" y2="706.50"/></g>
<polyline points="528.80,699.30 572.80,645.80 617.00,716.30" fill="none" stroke="#F8766D" stroke-width="1.65" stroke-linejoin="round"/>
<circle cx="528.80" cy="699.30" r="1.8" fill="#F8766D"/>
<circle cx="572.80" cy="645.80" r="1.8" fill="#F8766D"/>
<circle cx="617.00" cy="716.30" r="1.8" fill="#F8766D"/>
<polyline points="528.80,709.30 572.80,664.40 617.00,732.80" fill="none" stroke="#00BA38" stroke-width="1.65" stroke-linejoin="round"/>
<circle cx="528.80" cy="709.30" r="1.8" fill="#00BA38"/>
<circle cx="572.80" cy="664.40" r="1.8" fill="#00BA38"/>
<circle cx="617.00" cy="732.80" r="1.8" fill="#00BA38"/>
<polyline points="528.80,737.60 572.80,702.10 617.00,694.40" fill="none" stroke="#619CFF" stroke-width="1.65" stroke-linejoin="round"/>
<circle cx="528.80" cy="737.60" r="1.8" fill="#619CFF"/>
<circle cx="572.80" cy="702.10" r="1.8" fill="#619CFF"/>
<circle cx="617.00" cy="694.40" r="1.8" fill="#619CFF"/>
<text transform="translate(583.90 641.50) scale(1 1.05)" font-size="8.9" fill="#111" text-anchor="middle" stroke="#111" stroke-width="0.18">a</text>
<line x1="574.30" y1="645.60" x2="580.90" y2="641.90" stroke="#222" stroke-width="0.55"/>
<text transform="translate(568.00 682.40) scale(1 1.05)" font-size="8.9" fill="#111" text-anchor="middle" stroke="#111" stroke-width="0.18">a</text>
<line x1="568.40" y1="675.80" x2="572.10" y2="667.10" stroke="#222" stroke-width="0.55"/>
<text transform="translate(513.70 690.50) scale(1 1.05)" font-size="8.9" fill="#111" text-anchor="middle" stroke="#111" stroke-width="0.18">b</text>
<line x1="516.30" y1="690.50" x2="526.10" y2="697.70" stroke="#222" stroke-width="0.55"/>
<text transform="translate(516.60 720.30) scale(1 1.05)" font-size="8.9" fill="#111" text-anchor="middle" stroke="#111" stroke-width="0.18">b</text>
<line x1="519.10" y1="714.20" x2="527.20" y2="709.80" stroke="#222" stroke-width="0.55"/>
<text transform="translate(533.00 743.10) scale(1 1.05)" font-size="8.9" fill="#111" text-anchor="middle" stroke="#111" stroke-width="0.18">a</text>
<text transform="translate(576.80 708.00) scale(1 1.05)" font-size="8.9" fill="#111" text-anchor="middle" stroke="#111" stroke-width="0.18">a</text>
<text transform="translate(620.60 692.70) scale(1 1.05)" font-size="8.9" fill="#111" text-anchor="middle" stroke="#111" stroke-width="0.18">a</text>
<text transform="translate(628.30 712.40) scale(1 1.05)" font-size="8.9" fill="#111" text-anchor="middle" stroke="#111" stroke-width="0.18">b</text>
<line x1="619.20" y1="715.70" x2="625.30" y2="711.50" stroke="#222" stroke-width="0.55"/>
<text transform="translate(621.60 736.50) scale(1 1.05)" font-size="8.9" fill="#111" text-anchor="middle" stroke="#111" stroke-width="0.18">b</text>
<text transform="translate(489.70 692.50) rotate(-90)" font-size="12.7" fill="#000" text-anchor="middle" stroke="#000" stroke-width="0.28">FD residual value</text>
<text transform="translate(651.60 664.30) scale(1 1.08)" font-size="11.6" fill="#111" text-anchor="middle" stroke="#111" stroke-width="0.28">(<tspan font-style="italic">qFD-2</tspan>)</text>
<text transform="translate(651.80 678.20) scale(1 1.08)" font-size="11.3" fill="#111" text-anchor="middle" stroke="#111" stroke-width="0.28">SB1430</text>
<text transform="translate(637.70 725.50) scale(1 1.08)" font-size="11.3" fill="#111" stroke="#111" stroke-width="0.28">A: <tspan font-style="italic">qFD-2</tspan></text>
<text transform="translate(637.70 738.80) scale(1 1.08)" font-size="11.3" fill="#111" stroke="#111" stroke-width="0.28">B: <tspan font-style="italic">qfd-2</tspan></text>
<line x1="652.00" y1="690.70" x2="658.40" y2="690.70" stroke="#F8766D" stroke-width="1.8"/>
<circle cx="655.20" cy="690.70" r="2.0" fill="#F8766D"/>
<text transform="translate(663.80 693.00) scale(1 1.05)" font-size="6.4" fill="#4d4d4d" stroke="#4d4d4d" stroke-width="0.18">AA</text>
<line x1="652.00" y1="699.10" x2="658.40" y2="699.10" stroke="#00BA38" stroke-width="1.8"/>
<circle cx="655.20" cy="699.10" r="2.0" fill="#00BA38"/>
<text transform="translate(663.80 701.40) scale(1 1.05)" font-size="6.4" fill="#4d4d4d" stroke="#4d4d4d" stroke-width="0.18">AB</text>
<line x1="652.00" y1="707.20" x2="658.40" y2="707.20" stroke="#619CFF" stroke-width="1.8"/>
<circle cx="655.20" cy="707.20" r="2.0" fill="#619CFF"/>
<text transform="translate(663.80 709.50) scale(1 1.05)" font-size="6.4" fill="#4d4d4d" stroke="#4d4d4d" stroke-width="0.18">BB</text>
<text transform="translate(567.60 781.00) scale(1 1.08)" font-size="11.2" fill="#111" text-anchor="middle" stroke="#111" stroke-width="0.28">SB3481</text>
<text transform="translate(568.20 794.00) scale(1 1.08)" font-size="11.4" fill="#111" text-anchor="middle" stroke="#111" stroke-width="0.28">(<tspan font-style="italic">qFD-6b</tspan>)</text>
<text x="50.70" y="346.70" font-size="17.9" fill="#000" stroke="#000" stroke-width="0.28">(B)</text>
<text x="358.00" y="350.80" font-size="17.9" fill="#000" stroke="#000" stroke-width="0.28">(C)</text>
<text x="-0.70" y="606.60" font-size="17.9" fill="#000" stroke="#000" stroke-width="0.28">(D)</text>
<text x="242.20" y="610.40" font-size="17.9" fill="#000" stroke="#000" stroke-width="0.28">(E)</text>
<text x="473.70" y="612.40" font-size="17.9" fill="#000" stroke="#000" stroke-width="0.28">(F)</text>
</g>
</svg>
</body></html>
